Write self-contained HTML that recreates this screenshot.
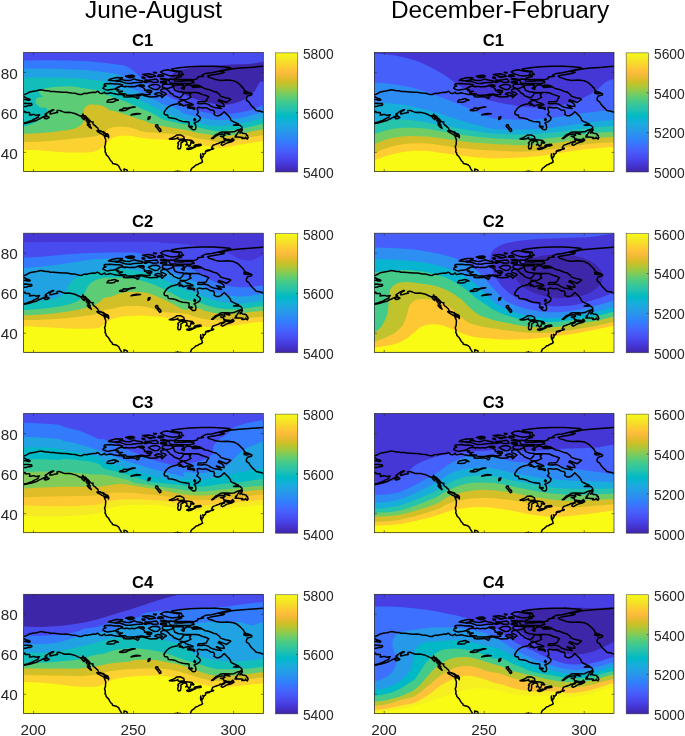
<!DOCTYPE html><html><head><meta charset="utf-8"><title>Z500 clusters</title>
<style>html,body{margin:0;padding:0;background:#fff}svg{display:block}text{font-family:"Liberation Sans",sans-serif;fill:#262626}.t{font-size:24.4px;fill:#000}.h{font-size:16.6px;font-weight:bold;fill:#000}.a{font-size:15.3px}.c{font-size:13.8px}</style></head><body>
<svg width="685" height="736" viewBox="0 0 685 736">
<defs>
<clipPath id="cp"><rect x="0" y="0" width="239.65" height="119.1"/></clipPath>
<g id="coast"><path d="M100.5 119.4 L100.3 118 L100.4 116.6 L101.1 116.8 L102.5 117.2 L103.5 117.8 L103.9 119.4 M98.3 119.6 L97.5 118 L96.5 116.4 L95.7 115 L95.3 113.8 L93.9 112.6 L92.9 112 L91.3 111.6 L88.9 111 L88.5 109.6 L87.1 108.4 L86.1 106.8 L85.7 106 L84.9 104.6 L83.9 103.6 L82.5 102.2 L82.3 100.6 L81.3 99.4 L81.7 98 L81.5 96.4 L80.9 94.4 L81.7 92.6 L81.9 90.4 L82.1 87.6 L81.7 86.4 L80.5 83.4 L82.9 83.8 L84.3 84 L84.9 85.4 L85.1 83.6 L84.3 82 L83.5 81.4 L82.1 81 L80.7 80.2 L80.1 79.4 L78.3 79 L76.3 78.2 L74.9 78 L74.5 76.8 L74.1 75.6 L72.9 74.8 L71.9 73.6 L70.3 72.6 L69.5 71.6 L69.1 70.6 L69.5 69.6 L67.5 69.4 L66.1 68.2 L65.3 67 L63.9 65.8 L62.7 64.8 L61.9 63.6 L59.9 63 L59.3 61.6 L58.7 63.2 L56.7 63.6 L54.3 62.6 L52.9 61.8 L50.5 60.8 L49.1 60.6 L46.9 60 L44.3 59.8 L41.3 60 L38.9 59.2 L37.5 58.6 L35.9 58 L33.5 58.2 L33.3 59.6 L33.9 60.1 L30.9 60.6 L28.9 61.2 L26.3 61.6 L26.3 60.6 L27.3 59 L29.3 58 L30.1 57.4 L28.7 57.4 L26.7 58.4 L25.1 59.2 L23.9 60.2 L22.3 61.2 L21.5 62 L23.1 62.6 L21.5 63.6 L19.5 64.6 L17.1 65.8 L14.7 66.8 L12.9 68 L10.3 68.6 L7.9 69.4 L5.3 70 L3.3 70.5 L0.5 71 L-0.9 71.2 M-0.9 70.6 L0.3 70.5 L3.3 69.8 L5.9 68.8 L8.3 68 L10.3 66.8 L12.5 65.8 L14.5 64.8 L14.9 63.2 L15.9 62.4 L13.9 62.6 L12.3 63 L10.7 62.2 L9.3 62.2 L7.3 62.6 L5.7 62.7 L6.3 61.8 L5.9 60.2 L4.1 60.2 L1.7 60.2 L1.5 59 L-0.9 58.8 M-0.9 51 L1.9 50.9 L3.9 51 L6.3 51.2 L7.9 51.2 L8.3 52.4 L6.9 53.1 L4.9 53 L2.9 53.8 L0.9 54 L-0.9 54.4 M-0.9 47.2 L1.9 47 L3.9 47.8 L5.9 47.9 L6.5 47.2 L4.9 46.2 L2.9 45.8 L1.3 44.8 L-0.9 43.8 M-0.9 42.3 L0.9 42.2 L3.5 41 L5.9 39.6 L9.9 38.8 L12.9 38.4 L16.7 37.3 L19.9 37.8 L21.9 38.3 L24.9 38.3 L26.5 39 L29.9 39 L32.9 39.3 L35.9 39.6 L38.9 39.9 L42.7 39.8 L45.9 40.3 L47.9 40.7 L51.5 40.9 L53.9 41.6 L55.9 42.1 L57.9 42.2 L59.3 41.4 L61.3 40.8 L63.3 41.2 L64.7 40.6 L67.9 40.1 L69.9 39.8 L71.9 40 L73.7 38.9 L74.9 39.4 L76.3 40.8 L78.3 41.2 L79.9 40.4 L80.9 39.8 L81.9 41.2 L83.9 41 L86.9 40.4 L89.9 41.2 L93.9 42 L97.9 42.2 L100.9 43.4 L99.9 44.3 L103.9 44.6 L109.9 44.1 L112.3 45 L113.9 46.2 L115.1 45.2 L115.3 44 L112.9 43.4 L116.9 43 L117.9 42.2 L119.9 43 L123.9 44 L126.9 44.6 L130.9 44.4 L133.3 44.4 L134.9 43 L137.5 43.6 L138.3 45.2 L139.5 44 L140.9 42.6 L142.7 41.6 L141.3 40.4 L137.3 39 L137.3 37.4 L138.9 36.4 L140.7 36 L142.3 36.4 L144.3 38 L145.9 39.6 L146.9 40.8 L148.9 41.6 L149.9 43.2 L152.9 44.4 L155.3 45.4 L156.9 44.8 L158.9 42.8 L159.9 40.6 L164.5 40.6 L167.1 41.6 L165.9 43 L167.3 44.8 L163.3 47 L159.9 47.4 L156.5 47 L158.3 48.2 L155.3 49.4 L154.1 51.4 L150.3 52.2 L147.9 52.8 L144.9 54.4 L142.9 56.2 L141.5 58.2 L140.3 60.2 L140.9 62 L141.9 62.5 L143.9 62.6 L144.7 65.2 L147.9 65.5 L151.9 66.3 L154.9 67.8 L158.9 69 L162.3 69.4 L165.3 69.7 L165.5 72 L165.1 74 L166.9 75.4 L168.9 77.2 L170.7 77.4 L171.9 76.8 L172.3 75 L171.9 72.4 L170.5 70.7 L173.9 69.2 L176.1 67.6 L176.7 65.4 L174.9 63.4 L173.1 62.2 L174.7 60 L173.9 58 L173.7 55.4 L175.1 54.9 L178.9 55.6 L182.5 55.2 L184.9 56.4 L186.9 57.6 L189.9 57.9 L190.9 60 L190.3 62 L192.9 63.4 L194.9 63.4 L197.3 62.4 L198.9 60.8 L200.5 59.3 L201.9 60.6 L203.5 62.2 L205.3 64 L206.7 66 L207.3 68 L209.5 69.2 L212.1 70.4 L214.9 71.6 L212.9 72 L209.9 72.8 L213.9 72.6 L216.3 72.8 L218.1 74.4 L218.5 75.6 L216.7 76.8 L213.9 77.6 L210.3 79.4 L206.9 79.7 L202.9 79.5 L198.9 79.5 L196.3 80 L194.7 81.4 L192.1 82.4 L189.9 84.4 L187.9 86.1 L189.5 86 L191.5 84.2 L194.3 82.4 L197.9 81.6 L200.7 81.8 L201.3 83 L198.9 83.9 L196.9 83.9 L199.9 84.8 L200.1 86 L200.7 87.4 L202.3 88 L204.3 88.6 L206.1 88.3 L207.9 88.8 L209.5 88 L209.1 86 L210.3 88 L207.9 89.4 L204.9 90.2 L202.7 90.8 L200.9 92 L198.9 93 L197.5 92.2 L197.9 90.8 L200.3 89.6 L201.1 89.3 L200.3 88.7 L198.1 89.6 L195.9 90 L195.5 90.8 L193.3 91.4 L191.9 92 L189.5 92.8 L188.5 94 L188.5 94.8 L187.9 95.4 L188.7 96.2 L189.9 96.4 L189.9 95.9 L188.9 96.8 L187.3 97 L185.9 97.4 L183.9 97.7 L182.5 98.2 L185.5 97.9 L184.7 98.4 L182.5 98.8 L181.9 99 L181.9 100.6 L180.7 101.6 L180.1 102.1 L179.1 101.2 L179.7 102.8 L179.5 104 L178.1 105.6 L177.3 103.6 L177.1 101.6 L176.9 104 L177.3 106 L178.1 106.6 L178.5 108.4 L178.9 109.5 L177.1 110.6 L175.3 111.2 L174 112.2 L172.3 112.5 L171.1 113.8 L169.9 114.8 L168.1 116 L167.3 117.6 L166.9 119 L167.1 120 M149.9 120 L150.7 119.5 L151.9 119.2 L153.9 119 L153.9 118.5 L154.3 119.2 L155.5 119.2 L156.9 119.2 L158.3 119.6 L159.3 120.4 M83.1 83.2 L80.5 82.8 L78.3 81.8 L76.3 80.6 L73.9 79.2 L73.3 78.4 L75.3 78.3 L77.9 79.2 L79.5 80 L80.5 81 L82.3 81.8 L83.1 83.2 M67.7 76 L65.3 74.2 L63.9 72.6 L63.7 71.7 L66.5 72 L66.3 73.6 L67.3 75 L67.7 76 M25.5 65 L23.9 66 L21.5 66.4 L20.5 65.2 L22.3 64.2 L24.1 64 L25.5 65 M211.3 84.7 L212.9 83.2 L211.9 83 L213.3 81.8 L214.1 80.4 L215.3 78.8 L216.3 77.4 L218.7 76.8 L218.5 78 L216.9 79.6 L216.3 80.6 L217.9 79.8 L218.9 80.8 L220.9 81 L222.7 81.6 L222.9 82.8 L223.9 83 L223.9 84.2 L224.5 85 L223.7 86.7 L222.7 86 L221.9 84.8 L221.3 86 L219.9 86.2 L218.1 86.2 L219.1 85 L216.9 84.8 L214.3 84.7 L211.3 84.7 M200.9 80.3 L203.9 80.5 L206.3 81.8 L203.9 81.5 L201.5 80.7 L200.9 80.3 M201.3 86.4 L203.3 87 L205.9 87.1 L204.9 88 L202.9 87.7 L201.3 87 L201.3 86.4 M206.9 88.8 L209.1 88.6 L210.3 87.6 L209.1 86 L207.9 86.8 L206.9 88 L206.9 88.8 M155.9 49.2 L158.1 48 L160.9 48 L162.5 49.6 L165.9 50.6 L169.3 52 L169.5 52.5 L166.9 52.8 L163.9 52.2 L162.7 52.7 L159.3 53.6 L158.9 52.4 L155.5 52.7 L157.3 51.2 L154.7 50.2 L155.9 49.2 M164.1 54.2 L165.9 54.1 L167.5 54.8 L169.9 55 L169.3 55.6 L166.1 55.8 L163.9 55.4 L164.1 54.2 M169.3 55.2 L170.9 55.6 L171.1 56.6 L170.3 57 L169.3 56.2 L169.3 55.2 M170.9 66.2 L171.9 67.2 L171.3 68.4 L170.1 67.4 L170.9 66.2 M166.1 74 L167.9 73.8 L168.9 74.4 L167.5 74.6 L166.1 74 M79.3 36 L81.9 37.2 L83.9 37.8 L86.9 37.1 L89.1 37 L91.7 36.2 L94.9 34.8 L97.9 33.4 L98.9 32.4 L95.1 31.5 L91.5 31.6 L86.7 31 L81.3 31.3 L80.3 32.4 L82.3 33.6 L79.9 34.6 L79.3 36 M95.3 34.2 L92.9 35.6 L91.9 36.8 L94.9 37.3 L93.5 38.4 L96.3 38.8 L98.9 38.8 L95.9 39.6 L95.3 40.4 L97.9 41.2 L101.9 41.5 L102.9 42.8 L109.9 42.8 L113.9 42.1 L117.9 41.7 L122.9 42.4 L126.5 42 L126.3 40.8 L122.9 39.4 L127.9 39.8 L128.1 38.4 L124.9 37.6 L120.9 38 L120.9 36.4 L118.9 34.8 L115.3 33.6 L117.9 33 L119.3 32.6 L114.9 32.8 L110.9 34.4 L108.9 34 L105.9 34.4 L101.9 33.8 L101.3 34.6 L98.9 33.6 L95.3 34.2 L95.3 34.2 M95.9 28.8 L99.9 30 L102.3 30.9 L106.9 31 L109.9 30.4 L114.9 30 L118.5 30 L118.7 28.4 L116.5 28 L112.7 27.4 L110.9 26.5 L105.9 28.2 L101.9 28 L97.9 27 L95.5 27.6 L95.9 28.8 M84.9 27.8 L89.9 28.4 L94.9 27.8 L98.9 25.4 L92.9 25.2 L86.9 26.6 L84.9 27.8 M121.9 29.8 L125.9 28.9 L129.5 30 L134.5 29.6 L134.1 28 L132.5 26.7 L127.9 27.4 L124.3 27.8 L121.3 27.6 L123.5 28.4 L121.9 29.8 M136.9 30 L139.9 30.7 L142.9 30.4 L142.9 29.4 L139.9 28.8 L137.1 29 L136.9 30 M124.9 34 L126.9 35.4 L130.9 37.2 L133.9 37 L136.5 34.6 L135.5 33 L132.9 32 L128.5 32.3 L126.9 33 L124.9 34 M138.7 34.6 L141.9 36 L144.9 35.8 L148.9 34.4 L149.3 32.2 L144.9 31.8 L139.9 31.9 L138.7 33 L138.7 34.6 M131.1 41.8 L133.9 42.9 L136.9 43 L138.9 42.2 L137.5 41 L134.7 40.2 L132.3 40.8 L131.1 41.8 M169.9 29 L170.5 30.2 L166.9 31 L161.9 31.1 L153.9 31 L146.9 30.6 L145.7 29.4 L145.7 28 L141.9 27.4 L136.9 26.7 L139.9 26 L143.9 27 L147.9 26.7 L150.9 27.4 L151.3 28.6 L157.9 28.8 L162.9 28.3 L166.9 28.3 L169.9 29 M143.9 17.4 L149.9 18.8 L154.9 19.4 L155.9 21 L154.3 23 L148.9 23.7 L144.9 23 L139.9 21.4 L136.9 19.6 L139.9 18 L143.9 17.4 M118.9 22 L122.9 23.4 L127.9 24.5 L131.9 23.8 L129.9 22.4 L124.9 21.4 L118.9 22 M133.9 23.8 L136.9 24.4 L139.9 23.6 L137.9 22.4 L134.9 22.6 L133.9 23.8 M189.9 13.8 L197.9 14.4 L205.9 15 L207.3 16 L201.9 17 L197.9 18 L193.9 19 L187.9 20.4 L181.9 21 L179.9 22 L177.9 23 L179.9 23.8 L173.9 24.6 L173.9 26.2 L169.9 27.4 L165.9 27.2 L159.9 27.2 L153.9 27.1 L150.9 26.4 L153.9 25 L157.9 24 L154.9 23 L159.9 22 L157.9 20.4 L157.9 19 L149.9 18 L147.9 16.6 L155.9 15.4 L165.9 14.4 L177.9 13.9 L189.9 13.8 M168.1 33.4 L169.9 34.2 L173.9 34.2 L177.5 34 L174.3 32.8 L170.9 32.5 L168.1 33.4 M150.1 32.8 L152.9 32.5 L156.9 32.3 L160.1 32.6 L159.9 34 L157.9 36 L160.3 37 L160.9 34.4 L162.9 32.6 L166.9 32.6 L167.9 33.6 L169.3 35 L172.9 34.8 L177.9 34.4 L181.5 36.4 L184.9 37 L187.5 38 L189.9 39 L192.9 39.7 L194.9 41.4 L195.9 42 L196.9 43.8 L201.9 45.4 L205.9 46.2 L207.1 46.9 L204.9 48.6 L202.9 50.1 L198.9 48.6 L195.3 47.2 L194.5 48.6 L197.9 50 L200.1 52 L200.5 54 L196.9 53.6 L192.7 52.5 L194.9 54.2 L197.9 56.2 L193.9 55.6 L189.9 54.8 L186.5 53.4 L184.9 52 L180.9 50.8 L177.9 51.3 L173.9 51.1 L174.7 49.4 L179.9 49.2 L182.5 48.8 L183.9 46 L185.1 44.4 L181.9 43 L178.9 42.2 L174.9 40.4 L170.9 40.2 L165.9 40.2 L159.9 39.9 L154.9 39.4 L151.3 38 L150.3 36 L149.9 34.4 L150.1 32.8 M183.9 23.6 L186.9 22.8 L192.9 21.8 L198.9 20.8 L200.9 19.8 L195.9 19.2 L199.9 18.2 L203.9 17.4 L207.9 16.5 L215.9 15.7 L225.9 15 L235.9 14.2 L241.9 13.7 M183.9 23.6 L185.3 25 L188.9 26 L191.9 27.2 L196.9 28 L203.9 27.6 L209.9 28.4 L213.5 30 L215.9 32 L217.9 34 L219.9 36 L220.5 37.6 L221.9 38.8 L225.9 40.2 L228.3 41.4 L227.9 42.6 L223.9 43.6 L222.7 46 L222.9 48 L225.3 49.4 L226.5 51.6 L228.5 54 L230.7 56 L232.5 58 L236.9 58.8 L239.9 59.8 L241.9 60.1 M220.3 39.6 L222.9 39.4 L225.5 40.4 L226.1 41 L222.9 41.4 L220.5 40.8 L220.3 39.6 M83.3 49.6 L87.9 49.8 L90.5 49.4 L91.9 48 L94.7 47.8 L90.9 46.2 L87.5 47 L84.9 47.4 L83.9 48.4 L83.3 49.6 M95.9 58 L98.9 58.3 L102.5 57.8 L104.9 56.2 L107.9 55.2 L111.5 54.5 L108.9 54.5 L103.9 55.8 L99.9 55.6 L98.9 56.8 L96.3 57.4 L95.9 58 M136.1 79.2 L137.3 78.6 L137.1 77 L135.9 76 L134.3 74 L133.9 72.4 L132.1 72.6 L131.9 74 L133.5 75.6 L134.9 77.6 L136.1 79.2 M145.7 86.5 L148.9 85.2 L151.3 84 L153.1 82.6 L156.9 82.5 L160.1 84.2 L160.7 86.8 L158.9 86.6 L155.1 87 L153.5 85.6 L154.3 85.1 L152.9 86 L149.1 86.8 L145.7 86.5 M154.9 96.6 L156.7 96.2 L157.3 93.6 L157.3 90.6 L159.1 89.6 L159.9 88.5 L161.5 88.7 L163.1 89.6 L163.3 91.4 L162.1 92.6 L163.9 92 L165.1 94 L166.5 93 L167.3 90.8 L167.1 89.6 L169.7 90.8 L170.3 90.2 L168.3 88.2 L164.9 87.7 L161.7 87.4 L160.5 88.1 L158.3 88 L156.3 88.4 L154.7 89.8 L154.1 90.8 L154.9 91.6 L154.1 94 L154.3 95.6 L154.9 96.6 M163.1 96.5 L164.9 97.2 L167.3 96.6 L172.1 94.3 L169.3 94.8 L166.7 95.2 L164.7 96 L163.7 95.8 L163.1 96.5 M170.5 93.5 L174.9 93.5 L177.5 92.9 L177.1 91.8 L174.5 92.1 L171.3 92.7 L170.5 93.5 M181.9 98.8 L184.3 98.5 L186.1 97.9 L184.5 98 L182.5 98.2 L181.9 98.8 M57.3 63.6 L59.9 63.8 L60.7 65.4 L60.5 67.4 L59.1 66.2 L58.1 65 L57.3 63.6 M60.3 63.4 L61.9 64 L61.7 65.6 L60.7 65 L60.3 63.4 M62.7 67.4 L64.7 68 L65.9 70 L65.3 70.6 L63.5 69.6 L62.5 68.2 L62.7 67.4 M61.9 66 L63.9 66 L64.7 66.8 L62.9 67.2 L61.9 66 M129.9 19.8 L132.7 20 L132.3 20.6 L130.3 20.4 L129.9 19.8 M124.3 24.2 L127.9 24.2 L128.3 24.8 L125.3 24.8 L124.3 24.2 M118.3 24.8 L120.3 24.6 L121.3 25.6 L119.3 26 L118.3 24.8 M104.3 24.2 L107.9 24 L109.9 24.8 L106.9 25.4 L104.3 25 L104.3 24.2 M91.9 28.2 L94.5 28.2 L94.7 28.8 L92.3 29 L91.9 28.2 M120.1 29.2 L122.7 29 L122.9 30 L120.9 30 L120.1 29.2 M116.3 32.6 L119.9 32.6 L120.7 33.8 L118.3 34 L116.3 32.6 M-0.9 59.2 L-0.1 59.4 L-0.1 60.2 L-0.9 60.4 L-0.9 59.2" fill="none"/><path d="M101.9 23.8 L104.9 23 L108.9 22.8 L110.9 23.8 L108.9 24.6 L104.9 24.8 L101.9 23.8Z M107.3 62.6 L110.9 62 L116.9 61.4 L112.9 61 L108.9 61.8 L107.3 62.6Z M124.3 67.2 L126.1 66.2 L126.5 64.2 L124.7 64.8 L124.3 67.2Z" fill="#000"/></g>
<linearGradient id="pg" x1="0" y1="1" x2="0" y2="0"><stop offset="0.0000" stop-color="#3e26a8"/><stop offset="0.0312" stop-color="#422ebf"/><stop offset="0.0625" stop-color="#4536d5"/><stop offset="0.0938" stop-color="#4741e5"/><stop offset="0.1250" stop-color="#484cef"/><stop offset="0.1562" stop-color="#4757f7"/><stop offset="0.1875" stop-color="#4562fc"/><stop offset="0.2188" stop-color="#3f6efe"/><stop offset="0.2500" stop-color="#347afd"/><stop offset="0.2812" stop-color="#2e85f8"/><stop offset="0.3125" stop-color="#2c90f0"/><stop offset="0.3438" stop-color="#269ae9"/><stop offset="0.3750" stop-color="#21a3e3"/><stop offset="0.4062" stop-color="#1aacdd"/><stop offset="0.4375" stop-color="#0cb3d3"/><stop offset="0.4688" stop-color="#01b9c6"/><stop offset="0.5000" stop-color="#12beb9"/><stop offset="0.5312" stop-color="#28c2ab"/><stop offset="0.5625" stop-color="#34c79c"/><stop offset="0.5938" stop-color="#44ca8a"/><stop offset="0.6250" stop-color="#5ccc76"/><stop offset="0.6562" stop-color="#77cc60"/><stop offset="0.6875" stop-color="#94ca4a"/><stop offset="0.7188" stop-color="#afc637"/><stop offset="0.7500" stop-color="#c8c129"/><stop offset="0.7812" stop-color="#debc2a"/><stop offset="0.8125" stop-color="#f1ba37"/><stop offset="0.8438" stop-color="#febe3c"/><stop offset="0.8750" stop-color="#feca33"/><stop offset="0.9062" stop-color="#f9d62d"/><stop offset="0.9375" stop-color="#f5e327"/><stop offset="0.9688" stop-color="#f6ef20"/><stop offset="1.0000" stop-color="#f9fb15"/></linearGradient>
</defs>
<rect width="685" height="736" fill="#fff"/>
<text class="t" x="153.5" y="18.1" text-anchor="middle">June-August</text>
<text class="t" x="500" y="18.1" text-anchor="middle">December-February</text>
<g transform="translate(23.65 52.4)">
<g clip-path="url(#cp)">
<rect x="-1" y="-1" width="241.65" height="121.1" fill="#484cef"/>
<path d="M-8 8 C-6.6 8 -5.4 8 0.4 8 C6.1 8 17.9 7.8 26.6 7.8 C35.4 7.9 45 8 52.9 8.4 C60.8 8.7 67.5 9.2 73.9 9.8 C80.4 10.3 86.2 10.9 91.5 11.9 C96.7 12.8 100 12.1 105.5 15.4 C110.9 18.6 120.2 28.1 124.1 31.4 C128.1 34.6 127.6 33.7 129.4 34.9 C131.2 36 132.8 37 134.7 38.4 C136.5 39.7 138.9 41.9 140.3 42.7 C141.8 43.6 141.9 42.8 143.6 43.5 C145.3 44.2 148.2 45.9 150.6 47 C152.9 48 155.9 48.7 157.6 49.9 C159.2 51.1 157.9 52.9 160.3 54.2 C162.8 55.5 168.1 56.7 172 57.7 C175.9 58.7 179.8 59.7 183.7 60.4 C187.6 61.1 191.5 61.6 195.4 61.8 C199.3 62 203.2 61.8 207.1 61.4 C211 61.1 214.9 60.5 218.7 59.7 C222.6 58.9 226.8 57.7 230.4 56.5 C234 55.3 237.5 53.1 240.3 52.4 C243.2 51.8 246.4 52.4 247.7 52.4 L247.7 127.1 L-8 127.1Z" fill="#347afd"/>
<path d="M-8 16.2 C-6.6 16.2 -6.9 16.2 0.4 16.2 C7.6 16.3 25.2 16.4 35.4 16.6 C45.6 16.8 54.4 17.1 61.7 17.6 C69 18.2 73.3 18.8 79.2 19.7 C85 20.7 92.1 20.7 96.7 23.3 C101.3 25.8 103.5 32.2 106.6 34.9 C109.7 37.5 112.5 37.7 115.4 39.2 C118.3 40.8 121.2 42.5 124.1 44.1 C127.1 45.6 130.2 47 132.9 48.4 C135.6 49.8 137.6 51.4 140.3 52.4 C143.1 53.4 146.7 53.5 149.4 54.6 C152.1 55.6 154.6 57.5 156.4 58.7 C158.2 59.8 157.7 60.3 160.3 61.2 C163 62.1 168.1 63.2 172 64.1 C175.9 65 179.8 65.9 183.7 66.5 C187.6 67 191.5 67.5 195.4 67.6 C199.3 67.7 203.2 67.4 207.1 67 C211 66.7 214.9 66.1 218.7 65.3 C222.6 64.5 226.8 63.3 230.4 62.4 C234 61.4 237.5 59.9 240.3 59.5 C243.2 59 246.4 59.5 247.7 59.5 L247.7 127.1 L-8 127.1Z" fill="#21a3e3"/>
<path d="M-8 25.5 C-6.6 25.5 -5.4 25.6 0.4 25.5 C6.1 25.5 17.9 25.1 26.6 25.2 C35.4 25.2 45.6 25.5 52.9 25.9 C60.2 26.3 65.2 26.9 70.4 27.6 C75.7 28.4 81.3 29.1 84.4 30.3 C87.6 31.5 86.9 33.5 89.1 34.9 C91.3 36.2 94.9 37 97.9 38.4 C100.8 39.7 103.7 41.3 106.6 42.7 C109.5 44.2 112.5 45.7 115.4 47.1 C118.3 48.6 121.2 50 124.1 51.5 C127.1 53 130.2 54.5 132.9 55.9 C135.6 57.3 135.8 58 140.3 59.8 C144.9 61.7 155.1 65.3 160.3 67 C165.6 68.8 168.1 69.3 172 70.2 C175.9 71.1 179.8 72 183.7 72.5 C187.6 73.1 191.5 73.4 195.4 73.5 C199.3 73.5 203.2 73.3 207.1 72.9 C211 72.5 214.9 71.7 218.7 70.9 C222.6 70.1 226.8 69.1 230.4 68.2 C234 67.4 237.5 66.3 240.3 65.9 C243.2 65.5 246.4 65.9 247.7 65.9 L247.7 127.1 L-8 127.1Z" fill="#12beb9"/>
<path d="M-8 74.1 C-6.6 74.1 -2.3 74.5 0.4 74.1 C3 73.8 5.2 72.9 7.6 71.9 C10.1 71 12.9 69.6 14.9 68.3 C17 66.9 18.7 65.4 20.1 63.9 C21.4 62.4 22.4 60.7 23 59.5 C23.6 58.4 23.8 57.7 23.6 57 C23.3 56.3 22.5 55.6 21.5 55.3 C20.5 55 18.7 55.5 17.5 55.1 C16.3 54.8 15.1 53.8 14.2 53 C13.3 52.1 12.3 51 12 50 C11.7 49.1 11.9 47.9 12.4 47.1 C12.9 46.3 13.9 45.5 14.9 45.1 C16 44.7 18.6 45.2 19 44.8 C19.4 44.3 17.9 43.2 17.3 42.4 C16.6 41.5 15.2 40.6 15.1 39.8 C14.9 39 15.2 38.3 16.4 37.6 C17.6 37 19.4 36.4 22.2 35.8 C25 35.3 29.5 34.6 33.2 34.3 C36.8 34 41.3 34 44.1 34 C47 33.9 48 33.9 50.4 34.1 C52.7 34.4 54.8 35 58.2 35.5 C61.5 36 66.9 36.6 70.4 37.3 C73.9 37.9 77.5 38.9 79.2 39.5 C80.8 40.2 78.7 40.6 80.3 41.4 C82 42.2 86.2 43.5 89.1 44.5 C92 45.5 94.9 46.5 97.9 47.6 C100.8 48.7 103.7 49.8 106.6 51.1 C109.5 52.3 112.5 53.7 115.4 55 C118.3 56.3 121.2 57.6 124.1 58.9 C127.1 60.3 130.2 61.9 132.9 63.3 C135.6 64.7 135.8 65.9 140.3 67.3 C144.9 68.7 155.1 70.5 160.3 71.7 C165.6 72.9 168.1 73.8 172 74.6 C175.9 75.5 179.8 76.3 183.7 77 C187.6 77.7 191.5 78.6 195.4 78.7 C199.3 78.9 203.2 78.4 207.1 77.9 C211 77.5 214.9 76.8 218.7 76 C222.6 75.3 226.8 74.2 230.4 73.5 C234 72.7 237.5 71.7 240.3 71.4 C243.2 71 246.4 71.4 247.7 71.4 L247.7 127.1 L-8 127.1Z" fill="#5ccc76"/>
<path d="M-8 81.4 C-6.6 81.4 -4 81.6 0.4 81.4 C4.7 81.3 12 81 17.9 80.5 C23.7 80.1 30.1 79.4 35.4 78.8 C40.6 78.1 45.9 77.6 49.4 76.7 C52.9 75.8 54.5 74.8 56.4 73.2 C58.3 71.6 60.2 69.4 60.8 67 C61.4 64.7 59.8 61.2 59.9 59.2 C60.1 57.1 60.5 56 61.7 54.8 C62.8 53.6 64.6 52.5 66.9 52.2 C69.3 51.8 73.1 52 75.7 52.5 C78.3 53 81 54.5 82.7 55.3 C84.3 56.1 83.8 56.8 85.6 57.5 C87.4 58.1 90 58.3 93.5 59.4 C97 60.5 102.2 62.5 106.6 63.9 C111 65.4 115.4 66.7 119.8 68.1 C124.1 69.6 126.1 71 132.9 72.5 C139.7 74 153.8 76 160.3 77.2 C166.9 78.5 168.1 79.2 172 80 C175.9 80.8 179.8 81.2 183.7 81.9 C187.6 82.5 191.5 83.8 195.4 84 C199.3 84.2 203.2 83.5 207.1 83 C211 82.6 214.9 81.8 218.7 81.1 C222.6 80.3 226.8 79.4 230.4 78.7 C234 78 237.5 77.1 240.3 76.7 C243.2 76.4 246.4 76.7 247.7 76.7 L247.7 127.1 L-8 127.1Z" fill="#d3bf27"/>
<path d="M-8 89.8 C-6.6 89.8 -4 89.9 0.4 89.8 C4.7 89.7 12 89.5 17.9 89.1 C23.7 88.7 29.5 88.1 35.4 87.5 C41.2 87 47.1 86.4 52.9 85.8 C58.7 85.2 66 84.8 70.4 84 C74.8 83.3 76.9 82.3 79.2 81.1 C81.5 79.8 82.4 77.8 84.4 76.7 C86.5 75.6 88.5 74.9 91.5 74.6 C94.4 74.2 98.5 74.2 102 74.6 C105.5 74.9 109.4 75.9 112.5 76.7 C115.5 77.5 112.4 78.3 120.4 79.3 C128.3 80.3 151.7 81.5 160.3 82.6 C169 83.6 168.1 84.7 172 85.5 C175.9 86.3 179.8 86.8 183.7 87.5 C187.6 88.2 191.5 89.4 195.4 89.6 C199.3 89.7 203.2 89 207.1 88.4 C211 87.9 214.9 87 218.7 86.3 C222.6 85.6 226.8 84.8 230.4 84.2 C234 83.6 237.5 82.9 240.3 82.6 C243.2 82.3 246.4 82.6 247.7 82.6 L247.7 127.1 L-8 127.1Z" fill="#fbd22f"/>
<path d="M-8 97.4 C-6.6 97.4 -4 97.2 0.4 97.4 C4.7 97.5 12 97.9 17.9 98.2 C23.7 98.6 29.5 99.1 35.4 99.5 C41.2 99.8 47.7 100.1 52.9 100.2 C58.2 100.2 63.1 100.4 66.9 99.8 C70.7 99.3 73.1 98.4 75.7 96.8 C78.3 95.3 80.4 92.6 82.7 90.7 C85 88.8 87.1 86.7 89.7 85.4 C92.3 84.2 95.2 83.6 98.5 83.3 C101.7 83.1 105.3 83.3 109 83.7 C112.6 84.1 111.8 85 120.4 85.8 C128.9 86.6 151.7 87.6 160.3 88.7 C169 89.7 168.1 91 172 91.8 C175.9 92.6 179.8 93 183.7 93.6 C187.6 94.2 191.5 95.4 195.4 95.4 C199.3 95.5 203.2 94.5 207.1 93.9 C211 93.3 214.9 92.6 218.7 91.9 C222.6 91.3 226.8 90.6 230.4 90.1 C234 89.5 237.5 88.9 240.3 88.7 C243.2 88.4 246.4 88.7 247.7 88.7 L247.7 127.1 L-8 127.1Z" fill="#f9fb15"/>
<path d="M243 11 C240.1 8.3 231.3 11.3 225.5 11.5 C219.6 11.7 213.8 11.9 207.9 12.2 C202.1 12.5 196.3 12.9 190.4 13.3 C184.6 13.6 178.2 13.8 172.9 14.5 C167.7 15.1 162.7 16.1 158.9 17.1 C155.1 18.1 152.2 19.2 150.1 20.6 C148.1 22.1 146.8 23.8 146.6 25.9 C146.5 27.9 147.8 30.7 149.3 32.9 C150.7 35.1 152.6 37.1 155.4 39 C158.2 40.9 162.1 42.7 165.9 44.3 C169.7 45.9 174.1 47.5 178.2 48.7 C182.3 49.8 186.3 50.7 190.4 51.3 C194.5 51.9 198.6 52.4 202.7 52.2 C206.8 51.9 211.5 50.7 215 49.5 C218.5 48.4 221.1 46.9 223.7 45.2 C226.3 43.4 229 41.1 230.7 39 C232.5 37 233.2 34.5 234.2 32.9 C235.2 31.3 235.4 30.3 236.9 29.4 C238.3 28.5 242 30.7 243 27.6 C244 24.6 245.9 13.7 243 11Z" fill="#3e26a8"/>
<use href="#coast" stroke="#000" stroke-width="1.5" stroke-linejoin="round" stroke-linecap="round"/>
</g>
<path d="M9.9 119.1 v-2.4 M9.9 0 v2.4 M109.9 119.1 v-2.4 M109.9 0 v2.4 M209.9 119.1 v-2.4 M209.9 0 v2.4 M0 100 h2.4 M239.7 100 h-2.4 M0 60 h2.4 M239.7 60 h-2.4 M0 20 h2.4 M239.7 20 h-2.4" stroke="#262626" stroke-width="0.6" fill="none"/>
<rect x="0" y="0" width="239.65" height="119.1" fill="none" stroke="#262626" stroke-width="0.7"/>
<text class="a" x="-6.0" y="106.2" text-anchor="end">40</text>
<text class="a" x="-6.0" y="66.2" text-anchor="end">60</text>
<text class="a" x="-6.0" y="26.2" text-anchor="end">80</text>
<text class="h" x="119" y="-6.0" text-anchor="middle">C1</text>
</g>
<rect x="275.4" y="52.9" width="22.4" height="119.1" fill="url(#pg)" stroke="#3a3a3a" stroke-width="0.5"/>
<text class="c" x="302.9" y="58.7">5800</text>
<path d="M297.8 112.7 h-1.8" stroke="#262626" stroke-width="0.6"/>
<text class="c" x="302.9" y="118.5">5600</text>
<text class="c" x="302.9" y="178.3">5400</text>
<g transform="translate(23.65 233.2)">
<g clip-path="url(#cp)">
<rect x="-1" y="-1" width="241.65" height="121.1" fill="#4536d5"/>
<path d="M-8 9.1 C-6.6 9.1 -21 9.2 0.4 9.1 C21.7 9 97.4 8.5 120.4 8.6 C143.3 8.6 131.2 9.2 137.9 9.6 C144.5 10 153.6 10.2 160.3 10.8 C167 11.5 172 12.4 177.8 13.3 C183.7 14.2 190.5 14.8 195.3 16.1 C200.2 17.3 203.7 19.2 207.1 20.8 C210.4 22.4 212.2 24.5 215.3 25.6 C218.4 26.6 222.7 27.4 225.8 27.3 C228.9 27.2 231.5 25.8 233.9 24.9 C236.3 23.9 238.1 21.9 240.4 21.3 C242.7 20.8 246.4 21.3 247.7 21.3 L247.7 127.1 L-8 127.1Z" fill="#484cef"/>
<path d="M-8 24.3 C-6.6 24.3 -4 24.5 0.4 24.3 C4.7 24.2 12 23.9 17.9 23.5 C23.7 23 29.5 22.2 35.4 21.7 C41.2 21.2 47.1 20.8 52.9 20.5 C58.7 20.2 63.1 19.9 70.4 19.8 C77.7 19.6 89.4 19.4 96.7 19.4 C104 19.4 109.2 18.9 114.2 19.8 C119.3 20.6 123 23.1 127.1 24.5 C131.2 25.8 134.9 26.9 138.7 28 C142.6 29 146.8 30.1 150.4 30.9 C154 31.7 156.2 31.2 160.3 32.6 C164.5 34.1 170.7 37.2 175.5 39.8 C180.4 42.4 185.3 45.9 189.5 48 C193.8 50 197.3 51.1 201.2 52.1 C205.1 53 208.8 53.5 212.9 53.8 C217 54.1 221.2 54.3 225.8 54 C230.3 53.8 236.7 52.4 240.3 52.1 C244 51.7 246.4 52.1 247.7 52.1 L247.7 127.1 L-8 127.1Z" fill="#347afd"/>
<path d="M-8 34.8 C-6.6 34.8 -5.4 35.3 0.4 34.8 C6.1 34.4 17.9 33.2 26.6 32.2 C35.4 31.2 45.6 29.7 52.9 28.7 C60.2 27.7 65.9 26.6 70.4 26.1 C75 25.6 76.7 25.8 80.3 25.6 C84 25.5 88.1 25.1 92 25.1 C95.9 25.1 99.8 25.3 103.7 25.6 C107.6 26 111.5 26.5 115.4 27.4 C119.3 28.3 123.2 29.5 127.1 30.9 C131 32.3 134.9 34 138.7 35.6 C142.6 37.1 146.8 38.7 150.4 40.2 C154 41.8 156.7 43.4 160.3 44.9 C164 46.4 168.1 47.4 172 49.1 C175.9 50.9 179.8 53.7 183.7 55.6 C187.6 57.4 191.5 59.1 195.4 60.2 C199.3 61.4 203.2 62.1 207.1 62.6 C211 63.1 214.9 63.3 218.7 63.2 C222.6 63.1 226.8 62.5 230.4 62 C234 61.5 237.5 60.5 240.3 60.2 C243.2 59.9 246.4 60.2 247.7 60.2 L247.7 127.1 L-8 127.1Z" fill="#21a3e3"/>
<path d="M-8 69 C-6.6 69 -4 69.3 0.4 69 C4.7 68.7 12 68.1 17.9 67.2 C23.7 66.4 31.3 65.4 35.4 63.7 C39.5 62.1 40.6 59.8 42.4 57.6 C44.1 55.4 44.1 52.8 45.9 50.6 C47.7 48.4 50 46.2 52.9 44.5 C55.8 42.8 59.9 41.5 63.4 40.4 C66.9 39.4 71.1 38.6 73.9 38 C76.8 37.4 77.3 37.4 80.3 37.1 C83.4 36.8 88.1 36.3 92 36.2 C95.9 36 99.8 35.9 103.7 36.2 C107.6 36.4 111.5 37 115.4 37.9 C119.3 38.8 123.2 40 127.1 41.4 C131 42.8 134.9 44.4 138.7 46.1 C142.6 47.7 146.8 49.7 150.4 51.3 C154 53 156.7 54.6 160.3 56 C164 57.4 168.1 58.2 172 59.7 C175.9 61.1 179.8 63.2 183.7 64.7 C187.6 66.1 191.5 67.5 195.4 68.4 C199.3 69.4 203.2 70.1 207.1 70.4 C211 70.7 214.9 70.4 218.7 70.2 C222.6 69.9 226.8 69.3 230.4 68.8 C234 68.3 237.5 67.5 240.3 67.2 C243.2 67 246.4 67.2 247.7 67.2 L247.7 127.1 L-8 127.1Z" fill="#12beb9"/>
<path d="M-8 76.9 C-6.6 76.9 -4 77.1 0.4 76.9 C4.7 76.7 12 76.1 17.9 75.5 C23.7 74.9 30.1 74.3 35.4 73.4 C40.6 72.4 45.6 71.3 49.4 69.9 C53.2 68.4 56.1 66.7 58.2 64.6 C60.3 62.6 60.8 59.8 62 57.6 C63.2 55.4 63.8 53.3 65.5 51.5 C67.2 49.7 69.7 47.8 72.2 46.8 C74.7 45.7 77 45.3 80.3 44.9 C83.7 44.5 88.1 44.6 92 44.6 C95.9 44.6 99.8 44.5 103.7 44.9 C107.6 45.3 111.5 46 115.4 46.9 C119.3 47.8 123.2 49 127.1 50.4 C131 51.8 134.9 53.6 138.7 55.4 C142.6 57.2 146.8 59.4 150.4 61.3 C154 63.1 156.7 65.4 160.3 66.5 C164 67.6 168.1 67.1 172 68.1 C175.9 69 179.8 71.1 183.7 72.3 C187.6 73.4 191.5 74.4 195.4 75.1 C199.3 75.7 203.2 75.9 207.1 76 C211 76.1 214.9 75.8 218.7 75.4 C222.6 75.1 226.8 74.4 230.4 74 C234 73.6 237.5 73 240.3 72.9 C243.2 72.7 246.4 72.9 247.7 72.9 L247.7 127.1 L-8 127.1Z" fill="#5ccc76"/>
<path d="M-8 82.1 C-6.6 82.1 -4 82.3 0.4 82.1 C4.7 82 12 81.7 17.9 81.3 C23.7 80.8 29.5 80.2 35.4 79.5 C41.2 78.8 47.7 77.9 52.9 76.9 C58.2 75.9 63.1 74.7 66.9 73.4 C70.7 72.1 73.4 70.4 75.7 69 C77.9 67.6 78.4 65.7 80.3 64.8 C82.3 63.9 85 64.3 87.4 63.6 C89.7 62.9 91.6 61.5 94.4 60.7 C97.1 59.9 100.2 59.2 103.7 58.9 C107.2 58.6 111.5 58.6 115.4 58.9 C119.3 59.2 123.2 59.6 127.1 60.7 C131 61.8 134.9 63.8 138.7 65.6 C142.6 67.3 146.8 69.4 150.4 71.2 C154 73 156.7 75.8 160.3 76.4 C164 77.1 168.1 74.5 172 74.8 C175.9 75.2 179.8 77.4 183.7 78.3 C187.6 79.3 191.5 79.9 195.4 80.3 C199.3 80.7 203.2 80.8 207.1 80.7 C211 80.6 214.9 80.2 218.7 79.9 C222.6 79.5 226.8 78.9 230.4 78.6 C234 78.2 237.5 77.9 240.3 77.8 C243.2 77.6 246.4 77.8 247.7 77.8 L247.7 127.1 L-8 127.1Z" fill="#d3bf27"/>
<path d="M-8 86.9 C-6.6 86.9 -4 86.9 0.4 86.9 C4.7 86.8 12 86.7 17.9 86.5 C23.7 86.3 29.5 86.1 35.4 85.6 C41.2 85.2 47.1 84.6 52.9 83.9 C58.7 83.2 66 82.1 70.4 81.3 C74.8 80.4 77.5 79.3 79.2 78.6 C80.8 77.9 79 77.5 80.3 77 C81.7 76.6 85 76.3 87.4 75.9 C89.7 75.4 91.6 74.6 94.4 74.1 C97.1 73.6 100.2 73.1 103.7 72.9 C107.2 72.7 111.5 72.6 115.4 72.9 C119.3 73.2 123.6 73.8 127.1 74.7 C130.6 75.6 130.9 77.2 136.4 78.2 C142 79.2 154.4 79.5 160.3 80.4 C166.3 81.4 168.1 83 172 83.9 C175.9 84.9 179.8 85.8 183.7 86.3 C187.6 86.8 191.5 87 195.4 87.1 C199.3 87.2 203.2 87 207.1 86.7 C211 86.5 214.9 86 218.7 85.6 C222.6 85.2 226.8 84.6 230.4 84.2 C234 83.8 237.5 83.4 240.3 83.2 C243.2 83.1 246.4 83.2 247.7 83.2 L247.7 127.1 L-8 127.1Z" fill="#fbd22f"/>
<path d="M-8 93 C-6.6 93 -4 92.9 0.4 93 C4.7 93.1 12 93.6 17.9 93.9 C23.7 94.2 29.5 94.5 35.4 94.8 C41.2 95 47.1 95.4 52.9 95.5 C58.7 95.5 66.3 95.6 70.4 95.3 C74.5 95 75.1 94.7 77.4 93.5 C79.8 92.4 82.1 89.7 84.4 88.3 C86.8 86.8 88.5 85.6 91.5 84.8 C94.4 83.9 98.5 83.4 102 83 C105.5 82.6 109.4 82.6 112.5 82.5 C115.5 82.4 116.1 82.3 120.4 82.5 C124.6 82.7 132 83.1 137.9 83.9 C143.7 84.7 151.6 86.5 155.4 87.4 C159.1 88.3 157.6 88.6 160.3 89.4 C163.1 90.3 168.1 91.9 172 92.6 C175.9 93.3 179.8 93.6 183.7 93.8 C187.6 94 191.5 94 195.4 93.8 C199.3 93.6 203.2 93.1 207.1 92.6 C211 92.1 214.9 91.5 218.7 91 C222.6 90.4 226.8 89.9 230.4 89.4 C234 89 237.5 88.5 240.3 88.3 C243.2 88.1 246.4 88.3 247.7 88.3 L247.7 127.1 L-8 127.1Z" fill="#f9fb15"/>
<use href="#coast" stroke="#000" stroke-width="1.5" stroke-linejoin="round" stroke-linecap="round"/>
</g>
<path d="M9.9 119.1 v-2.4 M9.9 0 v2.4 M109.9 119.1 v-2.4 M109.9 0 v2.4 M209.9 119.1 v-2.4 M209.9 0 v2.4 M0 100 h2.4 M239.7 100 h-2.4 M0 60 h2.4 M239.7 60 h-2.4 M0 20 h2.4 M239.7 20 h-2.4" stroke="#262626" stroke-width="0.6" fill="none"/>
<rect x="0" y="0" width="239.65" height="119.1" fill="none" stroke="#262626" stroke-width="0.7"/>
<text class="a" x="-6.0" y="106.2" text-anchor="end">40</text>
<text class="a" x="-6.0" y="66.2" text-anchor="end">60</text>
<text class="a" x="-6.0" y="26.2" text-anchor="end">80</text>
<text class="h" x="119" y="-6.0" text-anchor="middle">C2</text>
</g>
<rect x="275.4" y="233.7" width="22.4" height="119.1" fill="url(#pg)" stroke="#3a3a3a" stroke-width="0.5"/>
<text class="c" x="302.9" y="239.5">5800</text>
<path d="M297.8 293.5 h-1.8" stroke="#262626" stroke-width="0.6"/>
<text class="c" x="302.9" y="299.3">5600</text>
<text class="c" x="302.9" y="359.1">5400</text>
<g transform="translate(23.65 413.6)">
<g clip-path="url(#cp)">
<rect x="-1" y="-1" width="241.65" height="121.1" fill="#484cef"/>
<path d="M-8 9.2 C-6.6 9.2 -4 9 0.4 9.2 C4.7 9.3 12 9.7 17.9 10 C23.7 10.4 31.6 10.7 35.4 11.3 C39.1 11.8 37.6 12.4 40.4 13.2 C43.1 14.1 48.1 15 52 16.2 C55.9 17.3 59.8 18.7 63.7 20.3 C67.6 21.8 72.6 24.6 75.4 25.5 C78.2 26.4 77.6 24.7 80.3 25.6 C83.1 26.5 88.1 29.1 92 30.8 C95.9 32.6 99.8 34.4 103.7 36.1 C107.6 37.8 111.5 39.4 115.4 41 C119.3 42.6 123.2 44.1 127.1 45.4 C131 46.8 134.9 47.9 138.7 48.9 C142.6 50 146.8 51.1 150.4 51.9 C154 52.6 158.7 53.7 160.3 53.6 C162 53.5 158.4 52.2 160.3 51.3 C162.3 50.5 168.3 49.5 172 48.4 C175.7 47.4 179.7 46.3 182.5 44.9 C185.4 43.6 187.8 42.2 189 40.3 C190.1 38.3 188.7 35.5 189.5 33.2 C190.4 31 191.9 29 194.2 26.8 C196.6 24.7 200.7 22.6 203.6 20.4 C206.4 18.2 207.8 15.2 211.5 13.4 C215.1 11.5 220.6 10.3 225.5 9.2 C230.3 8 236.7 6.8 240.4 6.4 C244.1 5.9 246.4 6.4 247.7 6.4 L247.7 127.1 L-8 127.1Z" fill="#347afd"/>
<path d="M-8 23.2 C-6.6 23.2 -4 23 0.4 23.2 C4.7 23.3 12 23.7 17.9 24.1 C23.7 24.4 31.6 24.7 35.4 25.3 C39.1 25.8 37.6 26.5 40.4 27.3 C43.1 28 48.1 28.6 52 29.6 C55.9 30.6 59.8 31.8 63.7 33.1 C67.6 34.4 72.6 36.1 75.4 37.2 C78.2 38.3 77.6 38.5 80.3 39.6 C83.1 40.7 88.1 42.3 92 43.7 C95.9 45 99.8 46.5 103.7 47.8 C107.6 49 111.5 50.1 115.4 51.3 C119.3 52.4 123.2 53.7 127.1 54.8 C131 55.9 134.9 56.7 138.7 57.7 C142.6 58.7 146.8 59.7 150.4 60.6 C154 61.5 158.7 63.2 160.3 63 C162 62.7 158.4 59.5 160.3 58.9 C162.3 58.4 168.1 59.5 172 59.5 C175.9 59.5 179.8 59.6 183.7 58.9 C187.6 58.3 191.9 56.8 195.4 55.4 C198.9 54.1 202.2 52.5 204.7 50.8 C207.3 49 208.6 46.9 210.6 44.9 C212.5 43 214.3 40.8 216.4 39.1 C218.5 37.3 221.1 35.7 223.4 34.4 C225.8 33.1 227.6 32.6 230.4 31.5 C233.2 30.4 237.5 28.3 240.3 27.6 C243.2 27 246.4 27.6 247.7 27.6 L247.7 127.1 L-8 127.1Z" fill="#21a3e3"/>
<path d="M-8 33.7 C-6.6 33.7 -4 33.6 0.4 33.7 C4.7 33.7 12 33.8 17.9 34 C23.7 34.3 31.6 34.6 35.4 35.1 C39.1 35.6 37.6 36.6 40.4 37.2 C43.1 37.7 48.1 37.8 52 38.4 C55.9 38.9 59.8 39.7 63.7 40.7 C67.6 41.7 72.6 43 75.4 44.2 C78.2 45.4 77.6 46.6 80.3 47.8 C83.1 49 88.1 50.1 92 51.3 C95.9 52.5 99.8 53.8 103.7 55 C107.6 56.2 111.5 57.2 115.4 58.3 C119.3 59.4 123.2 60.7 127.1 61.8 C131 62.9 134.9 63.7 138.7 64.7 C142.6 65.7 146.8 67.5 150.4 67.6 C154 67.7 156.7 65.5 160.3 65.4 C164 65.2 168.1 66.5 172 66.5 C175.9 66.5 179.8 65.9 183.7 65.4 C187.6 64.8 191.5 63.8 195.4 63 C199.3 62.2 203.2 61.5 207.1 60.7 C211 59.9 214.9 59.1 218.7 58.4 C222.6 57.6 226.8 56.7 230.4 56 C234 55.3 237.5 54.6 240.3 54.3 C243.2 54 246.4 54.3 247.7 54.3 L247.7 127.1 L-8 127.1Z" fill="#01b9c6"/>
<path d="M-8 46 C-6.6 46 -4 46 0.4 46 C4.7 45.9 12 45.5 17.9 45.6 C23.7 45.7 31.6 46.3 35.4 46.3 C39.1 46.3 37.6 45.4 40.4 45.4 C43.1 45.3 48.1 45.8 52 46.2 C55.9 46.6 59.8 47 63.7 47.7 C67.6 48.4 72.6 49.4 75.4 50.6 C78.2 51.8 77.6 53.6 80.3 54.8 C83.1 56 88.1 56.6 92 57.7 C95.9 58.8 99.8 60 103.7 61.2 C107.6 62.4 111.5 63.5 115.4 64.7 C119.3 65.9 119.6 67 127.1 68.2 C134.6 69.4 152.9 71 160.3 71.8 C167.8 72.6 168.1 72.9 172 73 C175.9 73.1 179.8 72.8 183.7 72.4 C187.6 72 191.5 71.1 195.4 70.6 C199.3 70.1 203.2 69.8 207.1 69.5 C211 69.1 214.9 68.8 218.7 68.3 C222.6 67.8 226.8 67 230.4 66.5 C234 66 237.5 65.6 240.3 65.4 C243.2 65.2 246.4 65.4 247.7 65.4 L247.7 127.1 L-8 127.1Z" fill="#39c895"/>
<path d="M-8 58.2 C-6.6 58.2 -4 58.3 0.4 58.2 C4.7 58.2 12 57.9 17.9 57.9 C23.7 57.8 29.5 57.7 35.4 57.9 C41.2 58.1 47.1 58.6 52.9 59.1 C58.7 59.6 65.9 60.5 70.4 60.8 C75 61.2 76.7 60.8 80.3 61.2 C84 61.7 88.1 62.7 92 63.5 C95.9 64.4 99.8 65.4 103.7 66.5 C107.6 67.5 105.9 68.3 115.4 70 C124.8 71.6 150.9 75.1 160.3 76.5 C169.8 77.8 168.1 77.7 172 77.9 C175.9 78.1 179.8 77.9 183.7 77.6 C187.6 77.4 191.5 76.7 195.4 76.2 C199.3 75.8 203.2 75.4 207.1 75.1 C211 74.7 214.9 74.3 218.7 73.9 C222.6 73.5 226.8 73.1 230.4 72.7 C234 72.4 237.5 71.9 240.3 71.8 C243.2 71.6 246.4 71.8 247.7 71.8 L247.7 127.1 L-8 127.1Z" fill="#81cc59"/>
<path d="M-8 74.9 C-6.6 74.9 -4 75 0.4 74.9 C4.7 74.7 12 74.3 17.9 74 C23.7 73.7 29.5 73.3 35.4 73.1 C41.2 73 47.1 73.1 52.9 73.1 C58.7 73.1 66 73.2 70.4 73.1 C74.8 73 76.3 72.9 79.2 72.6 C82.1 72.3 84.7 71.7 87.9 71.4 C91.2 71 95 70.4 98.5 70.5 C102 70.6 105.3 71.3 109 71.9 C112.6 72.5 115.5 73.2 120.4 74 C125.2 74.8 132 75.6 137.9 76.6 C143.7 77.6 149.5 79.2 155.4 80.1 C161.2 81 167.1 81.7 172.9 81.9 C178.7 82.1 184.6 81.7 190.4 81.3 C196.3 81 202.1 80.2 207.9 79.6 C213.8 78.9 220.1 78.1 225.5 77.5 C230.9 76.9 236.7 76.3 240.4 76.1 C244.1 75.8 246.4 76.1 247.7 76.1 L247.7 127.1 L-8 127.1Z" fill="#debd29"/>
<path d="M-8 83.6 C-6.6 83.6 -4 83.7 0.4 83.6 C4.7 83.5 12 83.2 17.9 83.1 C23.7 82.9 29.5 82.9 35.4 82.7 C41.2 82.6 47.1 82.5 52.9 82.4 C58.7 82.2 65.8 82.2 70.4 81.9 C75.1 81.6 77.4 81.1 80.9 80.6 C84.4 80.1 87.4 79.1 91.5 78.9 C95.5 78.7 100.6 79 105.5 79.2 C110.3 79.5 115 80 120.4 80.5 C125.8 81 132 81.5 137.9 82.2 C143.7 83 149.5 84.3 155.4 85 C161.2 85.7 167.1 86.4 172.9 86.6 C178.7 86.8 184.6 86.6 190.4 86.2 C196.3 85.9 202.1 85.1 207.9 84.5 C213.8 83.9 220.1 83 225.5 82.4 C230.9 81.8 236.7 81.2 240.4 81 C244.1 80.8 246.4 81 247.7 81 L247.7 127.1 L-8 127.1Z" fill="#feca33"/>
<path d="M-8 91.9 C-6.6 91.9 -4 91.8 0.4 91.9 C4.7 91.9 12 92.2 17.9 92.4 C23.7 92.5 29.5 92.7 35.4 92.7 C41.2 92.7 47.1 92.6 52.9 92.4 C58.7 92.2 66 91.9 70.4 91.5 C74.8 91.1 76.3 90.5 79.2 89.7 C82.1 89 84.7 87.8 87.9 87.1 C91.2 86.5 95 86.1 98.5 85.9 C102 85.7 105.3 85.7 109 85.7 C112.6 85.7 115.5 85.7 120.4 85.9 C125.2 86.1 132 86.5 137.9 87.1 C143.7 87.8 149.5 89 155.4 89.7 C161.2 90.5 167.1 91.3 172.9 91.5 C178.7 91.7 184.6 91.5 190.4 91.1 C196.3 90.8 202.1 90 207.9 89.4 C213.8 88.8 220.1 88 225.5 87.5 C230.9 86.9 236.7 86.4 240.4 86.2 C244.1 86 246.4 86.2 247.7 86.2 L247.7 127.1 L-8 127.1Z" fill="#f5ea24"/>
<path d="M-8 102.4 C-6.6 102.4 -4 102.3 0.4 102.4 C4.7 102.4 12 102.8 17.9 102.9 C23.7 103 29.5 103 35.4 102.9 C41.2 102.7 47.1 102.4 52.9 102 C58.7 101.6 66 101 70.4 100.3 C74.8 99.5 76.3 98.7 79.2 97.6 C82.1 96.6 84.7 95.1 87.9 94.1 C91.2 93.2 95 92.3 98.5 91.9 C102 91.4 105.3 91.3 109 91.1 C112.6 91 115.5 91 120.4 91.1 C125.2 91.3 132 91.2 137.9 91.9 C143.7 92.5 149.5 94.2 155.4 95 C161.2 95.8 167.1 96.6 172.9 96.8 C178.7 96.9 184.6 96.3 190.4 95.9 C196.3 95.4 202.1 94.7 207.9 94.1 C213.8 93.5 220.1 92.9 225.5 92.4 C230.9 91.9 236.7 91.4 240.4 91.1 C244.1 90.9 246.4 91.1 247.7 91.1 L247.7 127.1 L-8 127.1Z" fill="#f9fb15"/>
<use href="#coast" stroke="#000" stroke-width="1.5" stroke-linejoin="round" stroke-linecap="round"/>
</g>
<path d="M9.9 119.1 v-2.4 M9.9 0 v2.4 M109.9 119.1 v-2.4 M109.9 0 v2.4 M209.9 119.1 v-2.4 M209.9 0 v2.4 M0 100 h2.4 M239.7 100 h-2.4 M0 60 h2.4 M239.7 60 h-2.4 M0 20 h2.4 M239.7 20 h-2.4" stroke="#262626" stroke-width="0.6" fill="none"/>
<rect x="0" y="0" width="239.65" height="119.1" fill="none" stroke="#262626" stroke-width="0.7"/>
<text class="a" x="-6.0" y="106.2" text-anchor="end">40</text>
<text class="a" x="-6.0" y="66.2" text-anchor="end">60</text>
<text class="a" x="-6.0" y="26.2" text-anchor="end">80</text>
<text class="h" x="119" y="-6.0" text-anchor="middle">C3</text>
</g>
<rect x="275.4" y="414.1" width="22.4" height="119.1" fill="url(#pg)" stroke="#3a3a3a" stroke-width="0.5"/>
<text class="c" x="302.9" y="419.9">5800</text>
<path d="M297.8 473.9 h-1.8" stroke="#262626" stroke-width="0.6"/>
<text class="c" x="302.9" y="479.7">5600</text>
<text class="c" x="302.9" y="539.5">5400</text>
<g transform="translate(23.65 594.3)">
<g clip-path="url(#cp)">
<rect x="-1" y="-1" width="241.65" height="121.1" fill="#3e26a8"/>
<path d="M-8 32.1 C-6.6 32.1 -4 32 0.4 32.1 C4.7 32.2 12 32.7 17.9 32.6 C23.7 32.6 29.5 32.3 35.4 31.8 C41.2 31.2 47.1 30.4 52.9 29.5 C58.7 28.5 64.6 27.4 70.4 26 C76.3 24.5 82.1 22.5 87.9 20.7 C93.8 19 100.1 17.2 105.5 15.5 C110.9 13.8 115.9 12 120.4 10.6 C124.8 9.1 128.1 7.9 132 6.7 C135.9 5.5 140.2 4.2 143.7 3.2 C147.2 2.2 150.5 1.7 153.1 0.9 C155.6 0.1 157.9 -1.3 158.9 -1.7 L247.7 -8 L247.7 127.1 L-8 127.1Z" fill="#484cef"/>
<path d="M-8 40.9 C-6.6 40.9 -4 40.8 0.4 40.9 C4.7 41 12 41.5 17.9 41.4 C23.7 41.3 29.5 41 35.4 40.3 C41.2 39.7 48.7 38.4 52.9 37.4 C57.1 36.4 57.3 35.1 60.4 34.4 C63.4 33.7 68 33.6 71.3 32.9 C74.6 32.3 76.9 31.6 80.3 30.4 C83.8 29.1 88.1 26.6 92 25.5 C95.9 24.4 99.8 24.2 103.7 23.7 C107.6 23.3 112.6 23.6 115.4 22.8 C118.2 22 117.6 19.9 120.3 19 C123.1 18 128.1 17.7 132 17.2 C135.9 16.7 139.8 16.4 143.7 16.1 C147.6 15.7 151.5 15.3 155.4 14.9 C159.3 14.5 163.2 14 167.1 13.7 C171 13.4 174.9 13.3 178.7 13.1 C182.6 13 186.8 12.9 190.4 12.8 C194 12.7 197.4 12.7 200.3 12.5 C203.3 12.4 203.8 12.1 207.9 11.6 C212.1 11.1 220.1 10 225.5 9.3 C230.9 8.7 236.7 7.9 240.4 7.6 C244.1 7.3 246.4 7.6 247.7 7.6 L247.7 127.1 L-8 127.1Z" fill="#347afd"/>
<path d="M-8 49.6 C-6.6 49.6 -4 49.6 0.4 49.6 C4.7 49.6 12 49.9 17.9 49.6 C23.7 49.3 28.3 49.5 35.4 47.9 C42.5 46.3 54.4 41.3 60.4 39.9 C66.3 38.4 67.9 39.6 71.3 39.2 C74.7 38.7 77.7 37.9 80.8 37.3 C83.8 36.8 87.1 36.6 89.5 35.9 C92 35.1 93 33.9 95.4 32.9 C97.8 32 100.8 30.8 104.1 30.4 C107.5 30 111.6 30.6 115.4 30.7 C119.2 30.9 123.2 31 127.1 31.3 C131 31.6 136 33 138.7 32.5 C141.5 32 140.9 28.8 143.7 28.3 C146.5 27.8 151.5 29.3 155.4 29.5 C159.3 29.7 163.2 29.7 167.1 29.5 C171 29.3 174.9 28.7 178.7 28.3 C182.6 27.9 186.8 27.4 190.4 27.1 C194 26.9 198 26.5 200.3 26.6 C202.7 26.7 202 27.5 204.4 27.7 C206.9 27.9 212 27.4 215 27.7 C217.9 28 219.6 28.9 222 29.5 C224.3 30.1 226.9 31.2 229 31.2 C231 31.2 232.3 30.1 234.2 29.5 C236.1 28.9 238.1 28 240.4 27.7 C242.6 27.4 246.4 27.7 247.7 27.7 L247.7 127.1 L-8 127.1Z" fill="#21a3e3"/>
<path d="M-8 58.4 C-6.6 58.4 -4 58.4 0.4 58.4 C4.7 58.4 12 58.7 17.9 58.4 C23.7 58.1 29.5 57.5 35.4 56.6 C41.2 55.8 48.7 54 52.9 53.1 C57.1 52.2 57.9 51.8 60.4 51.2 C62.8 50.6 65.2 50.2 67.6 49.6 C70.1 49 72.8 48.3 74.9 47.7 C77.1 47 78.4 46.3 80.8 45.7 C83.2 45.2 86.9 44.6 89.5 44.3 C92.2 43.9 94.4 43.7 96.8 43.5 C99.3 43.3 101.9 43.1 104.1 43 C106.4 42.9 108.5 42.9 110.3 42.8 C112.2 42.7 112.6 42.3 115.4 42.4 C118.2 42.5 123.2 43.1 127.1 43.6 C131 44.1 134.9 44.5 138.7 45.3 C142.6 46.1 146.8 47.3 150.4 48.2 C154 49.2 156.6 49 160.3 51.2 C164.1 53.3 167.9 58.6 172.9 61 C177.9 63.4 184.6 64.4 190.4 65.4 C196.3 66.4 202.1 67 207.9 67.1 C213.8 67.3 220.1 66.7 225.5 66.3 C230.9 65.8 236.7 64.8 240.4 64.5 C244.1 64.2 246.4 64.5 247.7 64.5 L247.7 127.1 L-8 127.1Z" fill="#12beb9"/>
<path d="M-8 68.9 C-6.6 68.9 -4 69 0.4 68.9 C4.7 68.8 12 68.7 17.9 68.4 C23.7 68.1 29.5 67.6 35.4 67.1 C41.2 66.7 48.5 66 52.9 65.4 C57.3 64.8 58.7 64.4 61.7 63.6 C64.6 62.9 67.3 61.7 70.4 61 C73.6 60.3 77.6 59.9 80.4 59.3 C83.2 58.6 85 57.7 87.4 57 C89.7 56.3 91.6 55.7 94.4 55.2 C97.1 54.8 100.2 54.2 103.7 54.1 C107.2 53.9 111.5 54 115.4 54.3 C119.3 54.6 123.2 55.2 127.1 55.8 C131 56.5 134.9 57.2 138.7 58.2 C142.6 59.1 146.8 60.4 150.4 61.7 C154 62.9 156.6 64.3 160.3 65.5 C164.1 66.7 167.9 67.5 172.9 68.9 C177.9 70.3 184.6 73.1 190.4 74.2 C196.3 75.2 202.1 75 207.9 75 C213.8 75 220.1 74.6 225.5 74.2 C230.9 73.7 236.7 72.7 240.4 72.4 C244.1 72.1 246.4 72.4 247.7 72.4 L247.7 127.1 L-8 127.1Z" fill="#5ccc76"/>
<path d="M-8 74.2 C-6.6 74.2 -4 74.1 0.4 74.2 C4.7 74.2 12 74.3 17.9 74.3 C23.7 74.4 29.5 74.4 35.4 74.3 C41.2 74.3 47.1 74.5 52.9 74.2 C58.7 73.8 66 73 70.4 72.4 C74.8 71.8 76.3 71.2 79.2 70.7 C82.1 70.1 83.6 69.5 87.9 68.9 C92.3 68.3 101.7 67.6 105.5 67.1 C109.3 66.7 108.3 66.3 110.7 66 C113.1 65.7 116.9 65.6 120.1 65.5 C123.2 65.5 126.3 65.5 129.4 65.8 C132.5 66 134.4 66.2 138.7 66.9 C143.1 67.7 149.7 68.8 155.4 70.3 C161.1 71.8 167.1 74.3 172.9 76.1 C178.7 77.9 184.6 80.3 190.4 81.2 C196.3 82 202.1 81.5 207.9 81.2 C213.8 80.9 220.1 80 225.5 79.4 C230.9 78.8 236.7 78 240.4 77.7 C244.1 77.4 246.4 77.7 247.7 77.7 L247.7 127.1 L-8 127.1Z" fill="#d3bf27"/>
<path d="M-8 80.6 C-6.6 80.6 -4 80.6 0.4 80.6 C4.7 80.7 12 80.9 17.9 81 C23.7 81.1 29.5 81.2 35.4 81.3 C41.2 81.5 47.1 81.8 52.9 81.7 C58.7 81.6 66 81.1 70.4 80.6 C74.8 80.2 76.3 79.5 79.2 78.9 C82.1 78.2 84.7 77.4 87.9 76.8 C91.2 76.2 95 75.7 98.5 75.4 C102 75 105.3 74.9 109 74.7 C112.6 74.5 116.7 74.2 120.4 74.2 C124 74.1 127.4 74.1 130.9 74.2 C134.4 74.2 137.3 74.2 141.4 74.7 C145.5 75.2 150.1 76 155.4 77.3 C160.6 78.6 167.1 81 172.9 82.6 C178.7 84.1 184.6 85.8 190.4 86.4 C196.3 87.1 202.1 86.7 207.9 86.4 C213.8 86.1 220.1 85.3 225.5 84.7 C230.9 84.1 236.7 83.2 240.4 82.9 C244.1 82.6 246.4 82.9 247.7 82.9 L247.7 127.1 L-8 127.1Z" fill="#fbd22f"/>
<path d="M-8 87.8 C-6.6 87.8 -4 87.7 0.4 87.8 C4.7 87.9 12 88.1 17.9 88.5 C23.7 88.9 29.5 89.5 35.4 90.1 C41.2 90.7 47.7 91.8 52.9 92.2 C58.2 92.6 63.1 92.6 66.9 92.6 C70.7 92.5 73.1 92.3 75.7 91.7 C78.3 91 80.1 89.9 82.7 88.7 C85.3 87.5 88.2 85.6 91.5 84.7 C94.7 83.7 98.5 83.4 102 82.9 C105.5 82.5 109.4 82.2 112.5 82 C115.5 81.8 117.3 81.8 120.4 81.7 C123.4 81.6 127.4 81.3 130.9 81.3 C134.4 81.3 137.3 81.2 141.4 81.7 C145.5 82.2 150.1 82.9 155.4 84.1 C160.6 85.4 167.1 87.7 172.9 89 C178.7 90.4 184.6 91.7 190.4 92.2 C196.3 92.7 202.1 92.5 207.9 92.2 C213.8 91.9 220.1 91 225.5 90.4 C230.9 89.9 236.7 89.3 240.4 89 C244.1 88.8 246.4 89 247.7 89 L247.7 127.1 L-8 127.1Z" fill="#f9fb15"/>
<use href="#coast" stroke="#000" stroke-width="1.5" stroke-linejoin="round" stroke-linecap="round"/>
</g>
<path d="M9.9 119.1 v-2.4 M9.9 0 v2.4 M109.9 119.1 v-2.4 M109.9 0 v2.4 M209.9 119.1 v-2.4 M209.9 0 v2.4 M0 100 h2.4 M239.7 100 h-2.4 M0 60 h2.4 M239.7 60 h-2.4 M0 20 h2.4 M239.7 20 h-2.4" stroke="#262626" stroke-width="0.6" fill="none"/>
<rect x="0" y="0" width="239.65" height="119.1" fill="none" stroke="#262626" stroke-width="0.7"/>
<text class="a" x="-6.0" y="106.2" text-anchor="end">40</text>
<text class="a" x="-6.0" y="66.2" text-anchor="end">60</text>
<text class="a" x="-6.0" y="26.2" text-anchor="end">80</text>
<text class="a" x="9.6" y="140.6" text-anchor="middle">200</text>
<text class="a" x="109.6" y="140.6" text-anchor="middle">250</text>
<text class="a" x="209.6" y="140.6" text-anchor="middle">300</text>
<text class="h" x="119" y="-6.0" text-anchor="middle">C4</text>
</g>
<rect x="275.4" y="594.8" width="22.4" height="119.1" fill="url(#pg)" stroke="#3a3a3a" stroke-width="0.5"/>
<text class="c" x="302.9" y="600.6">5800</text>
<path d="M297.8 654.6 h-1.8" stroke="#262626" stroke-width="0.6"/>
<text class="c" x="302.9" y="660.4">5600</text>
<text class="c" x="302.9" y="720.2">5400</text>
<g transform="translate(374.35 52.4)">
<g clip-path="url(#cp)">
<rect x="-1" y="-1" width="241.65" height="121.1" fill="#4537d6"/>
<path d="M-8 1.4 C-6.7 1.4 -4 1.2 -0.4 1.4 C3.3 1.5 9 1.7 13.7 2.2 C18.3 2.8 23 3.5 27.7 4.5 C32.4 5.5 37 6.7 41.7 8.4 C46.4 10 51 12.2 55.7 14.5 C60.4 16.8 65.9 20 69.7 22.4 C73.5 24.7 75.6 26.5 78.5 28.5 C81.4 30.6 84 32.6 87.2 34.6 C90.5 36.7 94.3 39 97.8 40.8 C101.3 42.6 104.6 44.1 108.3 45.5 C111.9 46.9 116 48.2 119.7 49.2 C123.3 50.1 126.7 50.6 130.2 51.3 C133.7 51.9 136.6 52.4 140.7 53 C144.8 53.6 149.4 54.5 154.7 54.8 C159.9 55.1 166.4 55.2 172.2 54.8 C178 54.3 184.5 53.3 189.7 52.2 C195 51 199.7 49.4 203.7 47.8 C207.8 46.2 211 44.3 214.3 42.5 C217.5 40.8 220.7 39 223 37.3 C225.3 35.5 226.5 33.5 228.3 32 C230 30.6 231.6 29.4 233.5 28.5 C235.4 27.6 237.3 27 239.7 26.8 C242 26.5 246.3 26.8 247.7 26.8 L247.7 127.1 L-8 127.1Z" fill="#4660fc"/>
<path d="M-8 30.3 C-6.7 30.3 -4 30.1 -0.4 30.3 C3.3 30.4 9 30.6 13.7 31.1 C18.3 31.6 23 32.4 27.7 33.2 C32.4 34.1 37 35.1 41.7 36.4 C46.4 37.6 51 39.2 55.7 40.8 C60.4 42.4 65.1 44.3 69.7 46 C74.4 47.8 79.1 49.4 83.7 51.3 C88.4 53.2 93.7 55.7 97.8 57.4 C101.8 59.2 104.6 60.3 108.3 61.8 C111.9 63.3 114.8 65.3 119.7 66.2 C124.5 67 131.3 66.8 137.2 67 C143 67.3 148.8 67.7 154.7 67.6 C160.5 67.4 166.4 66.8 172.2 66.2 C178 65.5 183.9 64.4 189.7 63.5 C195.6 62.7 201.4 61.7 207.2 60.9 C213.1 60.1 219.4 59.4 224.8 58.8 C230.2 58.2 235.8 57.6 239.7 57.4 C243.5 57.2 246.3 57.4 247.7 57.4 L247.7 127.1 L-8 127.1Z" fill="#2d8bf4"/>
<path d="M-8 51.3 C-6.7 51.3 -4 51.4 -0.4 51.3 C3.3 51.2 9 50.6 13.7 50.8 C18.3 50.9 23 51.5 27.7 52.2 C32.4 52.8 37 53.8 41.7 54.8 C46.4 55.8 51 57 55.7 58.3 C60.4 59.6 65.1 61.2 69.7 62.7 C74.4 64.1 79.1 65.6 83.7 67 C88.4 68.5 93.7 70.3 97.8 71.4 C101.8 72.6 104.6 73.2 108.3 74.1 C111.9 74.9 114.8 76.2 119.7 76.7 C124.5 77.2 131.3 77 137.2 77 C143 77.1 148.8 77.2 154.7 77 C160.5 76.8 166.4 76.4 172.2 75.8 C178 75.2 183.9 74.3 189.7 73.5 C195.6 72.7 201.4 71.9 207.2 71.1 C213.1 70.3 219.4 69.4 224.8 68.8 C230.2 68.2 235.8 67.8 239.7 67.6 C243.5 67.4 246.3 67.6 247.7 67.6 L247.7 127.1 L-8 127.1Z" fill="#17aeda"/>
<path d="M-8 71.4 C-6.7 71.4 -3.4 71.9 -0.4 71.4 C2.7 71 6.7 69.5 10.2 68.8 C13.7 68.1 16.6 67.3 20.7 67 C24.8 66.8 29.4 67.1 34.7 67.6 C39.9 68.1 46.4 69.1 52.2 70 C58 71 63.9 72.1 69.7 73.2 C75.6 74.3 81.4 75.7 87.2 76.7 C93.1 77.7 99.4 78.6 104.8 79.3 C110.2 80 114.3 80.6 119.7 81.1 C125.1 81.5 131.3 81.8 137.2 81.9 C143 82.1 148.8 82.2 154.7 81.9 C160.5 81.7 166.4 81.1 172.2 80.5 C178 80 183.9 79.4 189.7 78.8 C195.6 78.1 201.4 77.4 207.2 76.7 C213.1 76 219.4 75.1 224.8 74.6 C230.2 74.1 235.8 73.7 239.7 73.5 C243.5 73.4 246.3 73.5 247.7 73.5 L247.7 127.1 L-8 127.1Z" fill="#28c3ab"/>
<path d="M-8 81.9 C-6.7 81.9 -3.4 82.5 -0.4 81.9 C2.7 81.4 6.7 79.4 10.2 78.4 C13.7 77.4 16.6 76.5 20.7 76 C24.8 75.5 29.4 75.2 34.7 75.3 C39.9 75.3 46.4 75.7 52.2 76.3 C58 77 63.9 78.3 69.7 79.3 C75.6 80.3 81.4 81.4 87.2 82.3 C93.1 83.2 99.4 84 104.8 84.6 C110.2 85.2 114.3 85.4 119.7 85.8 C125.1 86.2 131.3 86.6 137.2 86.8 C143 87.1 148.8 87.4 154.7 87.2 C160.5 87 166.4 86.3 172.2 85.8 C178 85.3 183.9 84.7 189.7 84 C195.6 83.4 201.4 82.6 207.2 81.9 C213.1 81.3 219.4 80.6 224.8 80.2 C230.2 79.8 235.8 79.5 239.7 79.3 C243.5 79.2 246.3 79.3 247.7 79.3 L247.7 127.1 L-8 127.1Z" fill="#70cd65"/>
<path d="M-8 91.4 C-6.7 91.4 -3.4 92 -0.4 91.4 C2.7 90.8 6.7 88.6 10.2 87.5 C13.7 86.5 16.6 85.7 20.7 85.1 C24.8 84.5 29.4 83.8 34.7 83.7 C39.9 83.5 46.4 83.8 52.2 84.2 C58 84.7 63.9 85.5 69.7 86.3 C75.6 87.1 81.4 88.2 87.2 88.9 C93.1 89.7 99.4 90.3 104.8 90.7 C110.2 91.1 114.3 91.3 119.7 91.6 C125.1 91.9 131.3 92.2 137.2 92.5 C143 92.7 148.8 92.9 154.7 92.8 C160.5 92.7 166.4 92.2 172.2 91.6 C178 91 183.9 90 189.7 89.3 C195.6 88.6 201.4 87.8 207.2 87.2 C213.1 86.6 219.4 85.9 224.8 85.4 C230.2 85 235.8 84.7 239.7 84.6 C243.5 84.4 246.3 84.6 247.7 84.6 L247.7 127.1 L-8 127.1Z" fill="#d4bf28"/>
<path d="M-8 100.5 C-6.7 100.5 -3.4 101.2 -0.4 100.5 C2.7 99.8 6.7 97.5 10.2 96.3 C13.7 95.1 16.6 94.2 20.7 93.3 C24.8 92.5 29.4 91.6 34.7 91.2 C39.9 90.8 46.4 90.7 52.2 91.1 C58 91.4 63.9 92.6 69.7 93.3 C75.6 94.1 81.4 94.9 87.2 95.6 C93.1 96.3 99.4 96.9 104.8 97.4 C110.2 97.8 114.3 97.8 119.7 98.1 C125.1 98.4 131.3 98.9 137.2 99.1 C143 99.3 148.8 99.3 154.7 99.1 C160.5 98.9 166.4 98.4 172.2 97.7 C178 97 183.9 96 189.7 95.1 C195.6 94.2 201.4 93.2 207.2 92.5 C213.1 91.7 219.4 91.1 224.8 90.7 C230.2 90.3 235.8 90 239.7 89.8 C243.5 89.7 246.3 89.8 247.7 89.8 L247.7 127.1 L-8 127.1Z" fill="#fdcd32"/>
<path d="M-8 107.9 C-6.7 107.9 -3.4 108.5 -0.4 107.9 C2.7 107.3 6.7 105.3 10.2 104.2 C13.7 103.1 16.6 102.1 20.7 101.2 C24.8 100.3 29.4 99.2 34.7 98.8 C39.9 98.3 46.4 98.2 52.2 98.6 C58 98.9 63.9 100.1 69.7 100.9 C75.6 101.6 81.4 102.6 87.2 103.3 C93.1 104 99.4 104.8 104.8 105.2 C110.2 105.7 114.3 106.1 119.7 106.1 C125.1 106.2 131.3 105.8 137.2 105.6 C143 105.4 148.8 105.2 154.7 104.7 C160.5 104.2 166.4 103.4 172.2 102.6 C178 101.8 183.9 100.7 189.7 99.8 C195.6 98.9 201.4 98.1 207.2 97.4 C213.1 96.7 219.4 96.1 224.8 95.6 C230.2 95.1 235.8 94.7 239.7 94.6 C243.5 94.4 246.3 94.6 247.7 94.6 L247.7 127.1 L-8 127.1Z" fill="#f9fb15"/>
<use href="#coast" stroke="#000" stroke-width="1.5" stroke-linejoin="round" stroke-linecap="round"/>
</g>
<path d="M9.9 119.1 v-2.4 M9.9 0 v2.4 M109.9 119.1 v-2.4 M109.9 0 v2.4 M209.9 119.1 v-2.4 M209.9 0 v2.4 M0 100 h2.4 M239.7 100 h-2.4 M0 60 h2.4 M239.7 60 h-2.4 M0 20 h2.4 M239.7 20 h-2.4" stroke="#262626" stroke-width="0.6" fill="none"/>
<rect x="0" y="0" width="239.65" height="119.1" fill="none" stroke="#262626" stroke-width="0.7"/>
<text class="h" x="119" y="-6.0" text-anchor="middle">C1</text>
</g>
<rect x="626.15" y="52.9" width="22.4" height="119.1" fill="url(#pg)" stroke="#3a3a3a" stroke-width="0.5"/>
<text class="c" x="654" y="58.7">5600</text>
<path d="M648.5 92.8 h-1.8" stroke="#262626" stroke-width="0.6"/>
<text class="c" x="654" y="98.6">5400</text>
<path d="M648.5 132.6 h-1.8" stroke="#262626" stroke-width="0.6"/>
<text class="c" x="654" y="138.4">5200</text>
<text class="c" x="654" y="178.3">5000</text>
<g transform="translate(374.35 233.2)">
<g clip-path="url(#cp)">
<rect x="-1" y="-1" width="241.65" height="121.1" fill="#465efb"/>
<path d="M116.1 24.3 C116.1 20.2 117.6 18.6 119.6 16.4 C121.7 14.3 124.9 12.6 128.4 11.2 C131.9 9.8 134.8 9.1 140.7 8.2 C146.5 7.3 155.3 6.5 163.4 5.9 C171.6 5.3 181 5.1 189.7 4.7 C198.5 4.3 206.7 4 216 3.7 C225.3 3.3 239.7 -2 245.8 2.6 C251.9 7.2 252.8 22 252.8 31.3 C252.8 40.6 248 53.8 245.8 58.5 C243.6 63.2 243.2 58.3 239.7 59.4 C236.2 60.4 231.6 62.9 224.8 65 C217.9 67.1 207.2 70.7 198.5 72 C189.7 73.2 181 73.5 172.2 72.5 C163.4 71.5 152.9 68.8 145.9 66 C138.9 63.2 134.5 60 130.2 55.9 C125.8 51.7 122 46.2 119.6 41 C117.3 35.7 116.1 28.4 116.1 24.3Z" fill="#4537d6"/>
<path d="M140.7 43.6 C139.8 40.4 141.8 37.8 144.2 34.8 C146.5 31.9 150 28.3 154.7 26.1 C159.4 23.9 166.4 22.5 172.2 21.7 C178 20.9 183.9 20.7 189.7 21.2 C195.6 21.6 202 22.6 207.2 24.3 C212.5 26 217.8 28.4 221.3 31.3 C224.8 34.3 227.7 38.3 228.3 41.8 C228.9 45.4 227.1 49.3 224.8 52.4 C222.4 55.4 218.6 58.3 214.3 60.2 C209.9 62.1 204 63 198.5 63.7 C192.9 64.5 186.8 65.1 181 64.6 C175.1 64.2 168.7 62.9 163.4 61.1 C158.2 59.4 153.2 57 149.4 54.1 C145.6 51.2 141.5 46.8 140.7 43.6Z" fill="#3e26a8"/>
<path d="M-8 14.2 C-6.7 14.2 -4.5 14.1 -0.4 14.2 C3.8 14.3 11.3 14.4 17.2 14.7 C23 15 28.8 15.3 34.7 15.9 C40.5 16.5 46.4 17.2 52.2 18.2 C58 19.2 64.5 20.4 69.7 21.7 C75 23 79.7 24.5 83.7 26.1 C87.8 27.7 90.8 29.1 94.3 31.3 C97.8 33.5 101.8 36.6 104.8 39.2 C107.7 41.8 109.3 44.3 111.8 47.1 C114.3 49.9 116.9 52.9 119.7 55.9 C122.4 58.8 125.5 62.5 128.4 65 C131.3 67.4 133.4 68.8 137.2 70.6 C141 72.3 145.9 74.1 151.2 75.5 C156.4 76.8 162.9 78.1 168.7 78.6 C174.5 79.2 180.4 79.3 186.2 79 C192.1 78.6 197.9 77.6 203.7 76.5 C209.6 75.5 215.3 74.1 221.3 72.5 C227.2 71 235.3 68.1 239.7 67.2 C244.1 66.4 246.3 67.2 247.7 67.2 L247.7 127.1 L-8 127.1Z" fill="#2c8ff1"/>
<path d="M-8 26.1 C-6.7 26.1 -4.5 26 -0.4 26.1 C3.8 26.1 11.3 26.2 17.2 26.4 C23 26.7 28.8 26.9 34.7 27.5 C40.5 28.1 46.4 28.9 52.2 29.9 C58 31 64.5 32.4 69.7 34 C75 35.5 79.7 37.3 83.7 39.2 C87.8 41.2 90.8 43.2 94.3 45.7 C97.8 48.2 101.8 51.5 104.8 54.1 C107.7 56.7 109.3 58.6 111.8 61.1 C114.3 63.6 116.9 66.8 119.7 69 C122.4 71.2 125.5 72.7 128.4 74.3 C131.3 75.8 133.4 76.8 137.2 78.1 C141 79.4 145.9 81.1 151.2 82.1 C156.4 83.2 162.9 84.2 168.7 84.6 C174.5 84.9 180.4 84.7 186.2 84.2 C192.1 83.8 197.9 82.7 203.7 81.8 C209.6 80.9 215.3 79.9 221.3 78.6 C227.2 77.4 235.3 75 239.7 74.3 C244.1 73.5 246.3 74.3 247.7 74.3 L247.7 127.1 L-8 127.1Z" fill="#07b5d0"/>
<path d="M-8 38.7 C-6.7 38.7 -4 38.9 -0.4 38.7 C3.3 38.5 9 37.8 13.7 37.5 C18.3 37.2 23 36.9 27.7 36.9 C32.4 36.9 37 37 41.7 37.5 C46.4 37.9 51 38.7 55.7 39.7 C60.4 40.8 65.6 42.1 69.7 43.6 C73.8 45.1 76.7 46.8 80.2 48.9 C83.7 50.9 87.2 53.2 90.8 55.9 C94.3 58.5 97.8 62 101.3 64.6 C104.8 67.2 108.7 69.6 111.8 71.6 C114.8 73.7 116.9 75.4 119.7 76.9 C122.4 78.4 125.5 79.6 128.4 80.7 C131.3 81.8 133.4 82.5 137.2 83.5 C141 84.6 145.9 86 151.2 86.9 C156.4 87.7 162.9 88.6 168.7 88.8 C174.5 89 180.4 88.7 186.2 88.3 C192.1 87.8 197.9 86.9 203.7 86 C209.6 85.1 215.3 84.2 221.3 83 C227.2 81.8 235.3 79.4 239.7 78.6 C244.1 77.9 246.3 78.6 247.7 78.6 L247.7 127.1 L-8 127.1Z" fill="#44cb89"/>
<path d="M-8 100.5 C-7 100.5 -3.4 100.7 -2.1 100.5 C-0.8 100.4 -2 101 -0.4 99.7 C1.3 98.3 5.3 96 7.5 92.7 C9.8 89.3 12.2 83.9 13.3 79.5 C14.5 75.1 13.9 70.3 14.4 66.4 C14.8 62.5 14.7 58.8 15.9 56.2 C17.2 53.6 19.2 52 21.7 50.8 C24.3 49.6 27.3 48.9 31.2 48.9 C35.1 48.8 40.5 49.7 45.2 50.3 C49.9 50.8 55.1 51.4 59.2 52.4 C63.3 53.3 66.5 54.5 69.7 55.9 C72.9 57.2 75.6 58.5 78.5 60.2 C81.4 62 84.6 64.2 87.2 66.4 C89.9 68.6 91.9 71.2 94.3 73.4 C96.6 75.6 98.6 77.8 101.3 79.5 C103.9 81.3 107 82.6 110 83.9 C113.1 85.1 116.6 86.2 119.7 87 C122.7 87.9 125.5 88.2 128.4 88.8 C131.3 89.4 133.4 89.8 137.2 90.5 C141 91.3 145.9 92.4 151.2 93 C156.4 93.6 162.9 94 168.7 94.1 C174.5 94.1 180.4 93.8 186.2 93.2 C192.1 92.6 197.9 91.5 203.7 90.5 C209.6 89.6 215.3 88.9 221.3 87.7 C227.2 86.6 235.3 84.2 239.7 83.5 C244.1 82.8 246.3 83.5 247.7 83.5 L247.7 127.1 L-8 127.1Z" fill="#c1c32d"/>
<path d="M-8 109.3 C-7 109.3 -3.4 109.4 -2.1 109.3 C-0.8 109.2 -2.4 109.4 -0.4 108.6 C1.7 107.8 6.7 106.3 10.2 104.7 C13.7 103.2 17.6 101.6 20.7 99.5 C23.7 97.3 26.6 94.6 28.6 91.8 C30.5 88.9 31.2 85.5 32.2 82.5 C33.3 79.5 33.6 76.1 34.7 73.7 C35.8 71.4 37.1 69.6 38.9 68.3 C40.6 67 42.4 66.3 45.2 66 C48 65.7 52.2 65.9 55.7 66.4 C59.2 66.9 62.7 67.5 66.2 69 C69.7 70.5 73.8 73.1 76.7 75.1 C79.7 77.2 81.4 79.2 83.7 81.3 C86.1 83.3 88.4 85.8 90.8 87.4 C93.1 89 94.8 89.9 97.8 90.9 C100.7 91.9 104.6 92.8 108.3 93.5 C111.9 94.3 116.3 94.8 119.7 95.3 C123 95.8 125.5 96.2 128.4 96.7 C131.3 97.1 133.4 97.5 137.2 97.9 C141 98.3 145.9 99 151.2 99.3 C156.4 99.6 162.9 100 168.7 99.8 C174.5 99.7 180.4 99.2 186.2 98.4 C192.1 97.7 197.9 96.4 203.7 95.5 C209.6 94.5 215.3 93.8 221.3 92.7 C227.2 91.5 235.3 89.4 239.7 88.8 C244.1 88.2 246.3 88.8 247.7 88.8 L247.7 127.1 L-8 127.1Z" fill="#fec835"/>
<path d="M-8 114 C-6.7 114 -3.4 114.2 -0.4 114 C2.7 113.9 6.7 113.5 10.2 113 C13.7 112.4 17.2 111.8 20.7 110.7 C24.2 109.6 28 108.1 31.2 106.1 C34.4 104.2 37.3 101.1 39.9 99 C42.6 96.9 44.3 94.8 47 93.5 C49.6 92.2 52.5 91.5 55.7 91.3 C58.9 91 62.7 91.1 66.2 91.8 C69.7 92.4 73.2 94 76.7 95.3 C80.2 96.6 83.7 98.3 87.2 99.7 C90.8 101 94.3 102.3 97.8 103.2 C101.3 104 104.6 104.5 108.3 104.9 C111.9 105.4 116 105.6 119.7 105.8 C123.3 106 126.7 106.2 130.2 106.3 C133.7 106.4 136.6 106.4 140.7 106.3 C144.8 106.2 150 106.1 154.7 105.8 C159.4 105.5 163.4 105.1 168.7 104.6 C174 104 180.4 103.1 186.2 102.3 C192.1 101.5 197.9 100.7 203.7 99.7 C209.6 98.6 215.3 97.3 221.3 96.2 C227.2 95 235.3 93.2 239.7 92.7 C244.1 92.1 246.3 92.7 247.7 92.7 L247.7 127.1 L-8 127.1Z" fill="#f9fb15"/>
<use href="#coast" stroke="#000" stroke-width="1.5" stroke-linejoin="round" stroke-linecap="round"/>
</g>
<path d="M9.9 119.1 v-2.4 M9.9 0 v2.4 M109.9 119.1 v-2.4 M109.9 0 v2.4 M209.9 119.1 v-2.4 M209.9 0 v2.4 M0 100 h2.4 M239.7 100 h-2.4 M0 60 h2.4 M239.7 60 h-2.4 M0 20 h2.4 M239.7 20 h-2.4" stroke="#262626" stroke-width="0.6" fill="none"/>
<rect x="0" y="0" width="239.65" height="119.1" fill="none" stroke="#262626" stroke-width="0.7"/>
<text class="h" x="119" y="-6.0" text-anchor="middle">C2</text>
</g>
<rect x="626.15" y="233.7" width="22.4" height="119.1" fill="url(#pg)" stroke="#3a3a3a" stroke-width="0.5"/>
<text class="c" x="654" y="239.5">5600</text>
<path d="M648.5 273.6 h-1.8" stroke="#262626" stroke-width="0.6"/>
<text class="c" x="654" y="279.4">5400</text>
<path d="M648.5 313.4 h-1.8" stroke="#262626" stroke-width="0.6"/>
<text class="c" x="654" y="319.2">5200</text>
<text class="c" x="654" y="359.1">5000</text>
<g transform="translate(374.35 413.6)">
<g clip-path="url(#cp)">
<rect x="-1" y="-1" width="241.65" height="121.1" fill="#4537d6"/>
<path d="M-8 72.2 C-6.7 72.2 -3.4 72.7 -0.4 72.2 C2.7 71.8 6.7 70.6 10.2 69.6 C13.7 68.6 17.5 67.4 20.7 66.1 C23.9 64.8 26.8 63.5 29.4 61.7 C32.1 60 34.4 57.3 36.4 55.6 C38.5 53.8 39.4 52.7 41.7 51.2 C44 49.7 47.2 48.1 50.5 46.8 C53.7 45.5 57.2 44.4 61 43.3 C64.8 42.2 68.9 41.1 73.2 40.3 C77.6 39.6 82.6 39.1 87.2 38.6 C91.9 38.1 97.2 37.8 101.3 37.5 C105.3 37.3 108.7 37.4 111.8 37.2 C114.8 37 115.4 36.4 119.7 36.3 C123.9 36.3 131.3 36.7 137.2 36.8 C143 37 148.8 37.3 154.7 37.2 C160.5 37.1 166.4 36.7 172.2 36.3 C178 36 183.9 35.4 189.7 35.1 C195.6 34.8 202 34.7 207.2 34.6 C212.5 34.4 217.8 34.3 221.3 34 C224.8 33.7 225.9 33.2 228.3 32.8 C230.6 32.4 233.4 31.9 235.3 31.6 C237.2 31.3 237.6 31.1 239.7 31.1 C241.7 31 246.3 31.1 247.7 31.1 L247.7 127.1 L-8 127.1Z" fill="#4660fc"/>
<path d="M-8 81.9 C-8.1 81.9 -9.6 82 -8.4 81.9 C-7.1 81.8 -6 82 -0.4 81.4 C5.3 80.8 15.6 81.8 25.6 78.4 C35.6 75 51.5 65.6 59.6 61 C67.8 56.4 69.6 53.6 74.6 50.7 C79.6 47.8 84.6 45.2 89.6 43.7 C94.6 42.2 99.6 41.9 104.6 41.9 C109.6 41.8 114.2 42.4 119.6 43.4 C125.1 44.4 131.3 46.7 137.2 47.7 C143 48.7 148.8 48.8 154.7 49.5 C160.5 50.1 166.4 50.8 172.2 51.6 C178 52.3 183.9 53.1 189.7 53.8 C195.6 54.6 201.4 55.3 207.2 56.1 C213.1 56.9 219.4 58 224.8 58.7 C230.2 59.5 235.8 60.5 239.7 60.8 C243.5 61.2 246.3 60.8 247.7 60.8 L247.7 127.1 L-8 127.1Z" fill="#2d8bf4"/>
<path d="M-8 89.7 C-8.1 89.7 -9.6 89.8 -8.4 89.7 C-7.1 89.6 -6 90 -0.4 89.3 C5.3 88.6 15.6 88.8 25.6 85.7 C35.6 82.5 51.5 74.6 59.6 70.4 C67.8 66.2 69.6 63.2 74.6 60.7 C79.6 58.2 84.6 56.7 89.6 55.5 C94.6 54.3 99.6 53.9 104.6 53.8 C109.6 53.7 114.2 54 119.6 54.9 C125.1 55.8 131.3 57.9 137.2 59.1 C143 60.3 148.8 61.1 154.7 62.1 C160.5 63 166.4 64.1 172.2 64.9 C178 65.6 183.9 66.2 189.7 66.6 C195.6 67.1 201.4 67.3 207.2 67.5 C213.1 67.7 219.4 67.7 224.8 67.8 C230.2 68 235.8 68.3 239.7 68.4 C243.5 68.5 246.3 68.4 247.7 68.4 L247.7 127.1 L-8 127.1Z" fill="#17aeda"/>
<path d="M-8 95.7 C-8.1 95.7 -9.6 95.7 -8.4 95.7 C-7.1 95.6 -6 96.1 -0.4 95.4 C5.3 94.7 15.6 94.5 25.6 91.7 C35.6 88.9 51.5 82.2 59.6 78.5 C67.8 74.8 69.6 71.8 74.6 69.3 C79.6 66.8 84.6 64.8 89.6 63.6 C94.6 62.3 99.6 61.9 104.6 61.8 C109.6 61.7 114.2 62.1 119.6 62.9 C125.1 63.7 131.3 65.4 137.2 66.6 C143 67.8 148.8 69 154.7 70.1 C160.5 71.2 166.4 72.3 172.2 73.1 C178 73.9 183.9 74.5 189.7 74.9 C195.6 75.2 201.4 75.3 207.2 75.4 C213.1 75.4 219.4 75.3 224.8 75.2 C230.2 75.1 235.8 74.9 239.7 74.9 C243.5 74.8 246.3 74.9 247.7 74.9 L247.7 127.1 L-8 127.1Z" fill="#28c3ab"/>
<path d="M-8 99.5 C-8.1 99.5 -9.6 99.6 -8.4 99.5 C-7.1 99.4 -6 99.6 -0.4 99.2 C5.3 98.8 15.6 99.3 25.6 96.9 C35.6 94.5 51.5 88 59.6 84.6 C67.8 81.1 69.6 78.5 74.6 76.2 C79.6 73.9 84.6 71.8 89.6 70.6 C94.6 69.4 99.6 69.1 104.6 68.9 C109.6 68.7 114.2 68.8 119.6 69.4 C125.1 70 131.3 71.5 137.2 72.6 C143 73.7 148.8 75 154.7 76.1 C160.5 77.2 166.4 78.4 172.2 79.2 C178 80.1 183.9 80.6 189.7 81 C195.6 81.3 201.4 81.4 207.2 81.3 C213.1 81.3 219.4 80.8 224.8 80.6 C230.2 80.4 235.8 80.2 239.7 80.1 C243.5 80 246.3 80.1 247.7 80.1 L247.7 127.1 L-8 127.1Z" fill="#70cd65"/>
<path d="M-8 103.4 C-8.1 103.4 -9.6 103.4 -8.4 103.4 C-7.1 103.3 -6 103.5 -0.4 103.1 C5.3 102.7 15.6 103.2 25.6 101.2 C35.6 99.2 51.5 94.1 59.6 91.1 C67.8 88 69.6 85 74.6 82.9 C79.6 80.8 84.6 79.4 89.6 78.3 C94.6 77.2 99.6 76.5 104.6 76.3 C109.6 76 114.2 76.4 119.6 76.8 C125.1 77.2 131.3 78 137.2 78.9 C143 79.8 148.8 81.3 154.7 82.4 C160.5 83.5 166.4 84.6 172.2 85.4 C178 86.2 183.9 86.8 189.7 87.1 C195.6 87.4 201.4 87.3 207.2 87.1 C213.1 87 219.4 86.5 224.8 86.2 C230.2 86 235.8 85.5 239.7 85.4 C243.5 85.2 246.3 85.4 247.7 85.4 L247.7 127.1 L-8 127.1Z" fill="#d4bf28"/>
<path d="M-8 108.7 C-8.1 108.7 -9.6 108.7 -8.4 108.7 C-7.1 108.6 -6 108.8 -0.4 108.4 C5.3 108 15.6 108 25.6 106.1 C35.6 104.2 51.5 99.6 59.6 96.9 C67.8 94.2 69.6 91.6 74.6 89.8 C79.6 88 84.6 86.9 89.6 86 C94.6 85.1 99.6 84.6 104.6 84.4 C109.6 84.2 114.2 84.3 119.6 84.7 C125.1 85.1 131.3 85.8 137.2 86.6 C143 87.4 148.8 88.8 154.7 89.7 C160.5 90.7 166.4 91.7 172.2 92.4 C178 93 183.9 93.5 189.7 93.6 C195.6 93.7 201.4 93.5 207.2 93.3 C213.1 93 219.4 92.3 224.8 91.9 C230.2 91.4 235.8 90.8 239.7 90.6 C243.5 90.4 246.3 90.6 247.7 90.6 L247.7 127.1 L-8 127.1Z" fill="#fdcd32"/>
<path d="M-8 112.4 C-8.1 112.4 -9.6 112.4 -8.4 112.4 C-7.1 112.4 -6 112.5 -0.4 112.2 C5.3 111.9 15.6 112.1 25.6 110.5 C35.6 108.9 51.5 104.8 59.6 102.6 C67.8 100.5 69.6 98.9 74.6 97.6 C79.6 96.3 84.6 95.3 89.6 94.6 C94.6 93.9 99.6 93.4 104.6 93.4 C109.6 93.4 114.2 93.8 119.6 94.4 C125.1 95 131.3 96.1 137.2 97.1 C143 98.1 148.8 99.6 154.7 100.6 C160.5 101.6 166.4 102.5 172.2 102.9 C178 103.3 183.9 103.2 189.7 102.9 C195.6 102.6 201.4 101.8 207.2 101.1 C213.1 100.5 219.4 99.6 224.8 98.9 C230.2 98.1 235.8 97.1 239.7 96.8 C243.5 96.4 246.3 96.8 247.7 96.8 L247.7 127.1 L-8 127.1Z" fill="#f9fb15"/>
<use href="#coast" stroke="#000" stroke-width="1.5" stroke-linejoin="round" stroke-linecap="round"/>
</g>
<path d="M9.9 119.1 v-2.4 M9.9 0 v2.4 M109.9 119.1 v-2.4 M109.9 0 v2.4 M209.9 119.1 v-2.4 M209.9 0 v2.4 M0 100 h2.4 M239.7 100 h-2.4 M0 60 h2.4 M239.7 60 h-2.4 M0 20 h2.4 M239.7 20 h-2.4" stroke="#262626" stroke-width="0.6" fill="none"/>
<rect x="0" y="0" width="239.65" height="119.1" fill="none" stroke="#262626" stroke-width="0.7"/>
<text class="h" x="119" y="-6.0" text-anchor="middle">C3</text>
</g>
<rect x="626.15" y="414.1" width="22.4" height="119.1" fill="url(#pg)" stroke="#3a3a3a" stroke-width="0.5"/>
<text class="c" x="654" y="419.9">5600</text>
<path d="M648.5 454 h-1.8" stroke="#262626" stroke-width="0.6"/>
<text class="c" x="654" y="459.8">5400</text>
<path d="M648.5 493.8 h-1.8" stroke="#262626" stroke-width="0.6"/>
<text class="c" x="654" y="499.6">5200</text>
<text class="c" x="654" y="539.5">5000</text>
<g transform="translate(374.35 594.3)">
<g clip-path="url(#cp)">
<rect x="-1" y="-1" width="241.65" height="121.1" fill="#473fe3"/>
<path d="M141.5 26 C141.8 23.9 142 21 144.2 19.3 C146.4 17.6 150 16.7 154.7 15.8 C159.4 14.9 164.9 14.5 172.2 14.1 C179.5 13.7 189.7 13.4 198.5 13.4 C207.2 13.3 216.9 13.6 224.8 13.7 C232.6 13.8 241.1 11.1 245.8 14.1 C250.5 17 252.8 25.9 252.8 31.2 C252.8 36.6 248 43.4 245.8 46.1 C243.6 48.8 241.4 46.8 239.7 47.4 C237.9 47.9 237.5 48.5 235.3 49.6 C233.1 50.7 230 52.5 226.5 54 C223 55.5 218.9 57.4 214.3 58.4 C209.6 59.4 203.7 60.3 198.5 60.1 C193.2 60 187.7 58.8 182.7 57.5 C177.8 56.2 173.1 54.3 168.7 52.3 C164.3 50.2 159.9 47.6 156.4 45.3 C152.9 42.9 150 40.5 147.7 38.2 C145.4 36 143.8 33.6 142.8 31.6 C141.8 29.5 141.3 28 141.5 26Z" fill="#3e26a8"/>
<path d="M-8 12.3 C-6.7 12.3 -4.5 12.3 -0.4 12.3 C3.8 12.3 11.3 12.1 17.2 12.3 C23 12.5 28.8 12.8 34.7 13.4 C40.5 13.9 46.4 14.6 52.2 15.5 C58 16.3 63.9 17.5 69.7 18.6 C75.6 19.8 82 21.1 87.2 22.5 C92.5 23.8 97.2 25.5 101.3 26.9 C105.3 28.2 108.7 29.3 111.8 30.4 C114.8 31.4 116.9 31.5 119.6 33 C122.4 34.4 125.5 37 128.4 39.1 C131.3 41.2 134 43.5 137.2 45.6 C140.4 47.7 143.9 49.6 147.7 51.6 C151.5 53.5 155.3 55 159.9 57.2 C164.6 59.3 170.2 62.4 175.7 64.5 C181.3 66.6 187.4 68.9 193.2 69.8 C199.1 70.7 205.5 70.2 210.8 69.8 C216 69.3 219.9 68.3 224.8 67.1 C229.6 66 235.8 63.5 239.7 62.8 C243.5 62 246.3 62.8 247.7 62.8 L247.7 127.1 L-8 127.1Z" fill="#3d70ff"/>
<path d="M-8 87.7 C-8.1 87.7 -9.6 87.8 -8.4 87.7 C-7.1 87.6 -2.6 87.2 -0.4 86.9 C1.9 86.6 3.2 86.5 4.9 86 C6.7 85.5 8.4 84.8 10.1 83.8 C11.9 82.9 14 81.6 15.4 80.3 C16.9 79.1 18 77.7 18.9 76.3 C19.9 74.9 20.6 73.6 21.1 72 C21.6 70.4 21.9 68.5 21.9 66.7 C21.9 64.9 21.8 63.4 21.1 61 C20.5 58.6 18.6 54.9 18.2 52.3 C17.9 49.7 18.2 47.4 18.9 45.3 C19.6 43.3 20.4 41.4 22.4 40 C24.5 38.6 27.4 37.7 31.1 36.8 C34.9 35.9 40.5 35.3 45.2 34.7 C49.9 34.2 54.5 33.6 59.2 33.3 C63.9 33 68.6 32.9 73.2 33 C77.9 33.1 82.6 33.3 87.2 33.9 C91.9 34.4 97.2 35.6 101.3 36.5 C105.3 37.4 108.7 38.1 111.8 39.1 C114.8 40.1 116.9 41.2 119.6 42.6 C122.4 44.1 125.5 46 128.4 47.9 C131.3 49.7 134 51.8 137.2 53.7 C140.4 55.6 143.9 57.4 147.7 59.3 C151.5 61.2 155.3 63.1 159.9 65 C164.6 67 170.2 69.2 175.7 70.8 C181.3 72.5 187.4 74.3 193.2 75 C199.1 75.7 205.5 75.6 210.8 75 C216 74.5 219.9 73 224.8 71.9 C229.6 70.7 235.8 68.7 239.7 68 C243.5 67.4 246.3 68 247.7 68 L247.7 127.1 L-8 127.1Z" fill="#269ae8"/>
<path d="M-8 96.2 C-8.1 96.2 -9.6 96.3 -8.4 96.2 C-7.1 96.1 -2.9 95.9 -0.4 95.6 C2.1 95.4 4.3 95.1 6.6 94.7 C9 94.3 11.3 93.8 13.6 93 C16 92.2 18.4 91.1 20.6 89.9 C22.8 88.7 24.9 87.5 26.8 86 C28.7 84.5 30.6 82.8 32 81.2 C33.5 79.6 34.6 78 35.5 76.3 C36.5 74.6 37.2 73 37.8 71.1 C38.3 69.2 38.3 67.6 38.8 65 C39.4 62.4 39.5 58.3 40.8 55.7 C42.2 53.1 44.5 51 46.9 49.6 C49.4 48.2 52.1 47.7 55.6 47.2 C59.2 46.7 64.9 46.9 68.4 46.7 C72 46.5 74.2 46.1 77.1 46 C80.1 45.9 83 46.1 85.9 46.3 C88.9 46.5 91.7 46.9 94.6 47.4 C97.6 47.9 100.5 48.5 103.4 49.3 C106.4 50.1 109.5 51.4 112.2 52 C115 52.6 117 52.5 119.6 53.2 C122.3 53.9 125.5 54.8 128.4 56.1 C131.3 57.4 134 59.4 137.2 61 C140.4 62.7 143.9 64.2 147.7 65.9 C151.5 67.6 155.3 69.6 159.9 71.2 C164.6 72.8 170.2 74.2 175.7 75.6 C181.3 76.9 187.4 78.8 193.2 79.4 C199.1 80.1 205.5 79.9 210.8 79.4 C216 78.9 219.9 77.6 224.8 76.4 C229.6 75.3 235.8 73.1 239.7 72.4 C243.5 71.7 246.3 72.4 247.7 72.4 L247.7 127.1 L-8 127.1Z" fill="#01b9c6"/>
<path d="M-8 101.7 C-8.1 101.7 -9.6 101.8 -8.4 101.7 C-7.1 101.6 -2.9 101.5 -0.4 101.3 C2.1 101.1 4.3 101 6.6 100.7 C9 100.4 11.3 99.9 13.6 99.3 C16 98.7 18.3 97.9 20.6 96.9 C23 95.9 25.4 94.6 27.6 93.4 C29.8 92.2 31.8 90.8 33.8 89.5 C35.8 88.2 38 87.3 39.6 85.8 C41.2 84.3 42.2 82.6 43.4 80.7 C44.7 78.9 46 76.7 47.3 74.7 C48.7 72.7 50 70.5 51.3 68.7 C52.7 66.9 54.3 65.5 55.6 64.1 C57 62.7 58.1 61.4 59.6 60.2 C61.2 59 62.9 57.6 64.9 56.7 C67 55.8 69.3 55.2 71.9 54.8 C74.6 54.4 77.7 54.2 80.6 54.2 C83.6 54.2 86.5 54.6 89.4 55 C92.4 55.4 95.2 56.1 98.1 56.8 C101.1 57.5 104.3 58.5 106.9 59.4 C109.6 60.3 111.8 61.2 113.9 62 C116.1 62.8 117.2 63.8 119.6 64.2 C122.1 64.6 125.5 63.7 128.4 64.5 C131.3 65.3 134 67.5 137.2 68.9 C140.4 70.3 143.9 71.6 147.7 73.1 C151.5 74.6 155.3 76.8 159.9 78 C164.6 79.3 170.2 79.7 175.7 80.6 C181.3 81.6 187.4 83.3 193.2 83.8 C199.1 84.3 205.5 84 210.8 83.4 C216 82.9 219.9 81.5 224.8 80.3 C229.6 79.1 235.8 77.1 239.7 76.4 C243.5 75.8 246.3 76.4 247.7 76.4 L247.7 127.1 L-8 127.1Z" fill="#44cb89"/>
<path d="M-8 107.7 C-8.1 107.7 -9.6 107.8 -8.4 107.7 C-7.1 107.7 -2.9 107.6 -0.4 107.4 C2.1 107.3 4.3 107.1 6.6 106.8 C9 106.5 11.3 106 13.6 105.5 C16 105 18.3 104.4 20.6 103.7 C23 103 25.5 102.3 27.6 101.5 C29.8 100.7 31.6 99.7 33.6 98.7 C35.6 97.7 37.6 96.9 39.6 95.6 C41.6 94.3 43.5 92.9 45.6 90.7 C47.8 88.6 50.3 85.4 52.6 82.7 C55 80.1 57.5 76.9 59.6 74.8 C61.8 72.7 63.5 71.7 65.6 70.2 C67.8 68.7 70.3 67.1 72.6 66 C75 64.9 77.1 64 79.6 63.4 C82.1 62.9 84.8 62.7 87.6 62.7 C90.4 62.7 93.5 62.8 96.4 63.3 C99.4 63.8 102.5 64.8 105.1 65.5 C107.8 66.2 109.8 67 112.2 67.7 C114.7 68.4 117 69.1 119.6 69.9 C122.3 70.7 125.5 71.3 128.4 72.4 C131.3 73.5 134 75.4 137.2 76.4 C140.4 77.5 143.9 78 147.7 78.9 C151.5 79.8 155.3 80.6 159.9 81.7 C164.6 82.8 170.2 84.5 175.7 85.5 C181.3 86.6 187.4 87.5 193.2 87.8 C199.1 88.1 205.5 87.9 210.8 87.3 C216 86.7 219.9 85.3 224.8 84.1 C229.6 83 235.8 80.9 239.7 80.3 C243.5 79.6 246.3 80.3 247.7 80.3 L247.7 127.1 L-8 127.1Z" fill="#b9c431"/>
<path d="M-8 111.7 C-8.1 111.7 -9.6 111.8 -8.4 111.7 C-7.1 111.7 -2.9 111.5 -0.4 111.4 C2.1 111.3 4.3 111.2 6.6 110.9 C9 110.6 11.3 110.1 13.6 109.6 C16 109.1 18.3 108.4 20.6 107.7 C23 107 25.5 105.9 27.6 105.3 C29.8 104.7 31.6 104.4 33.6 103.9 C35.6 103.4 37.6 103.1 39.6 102.1 C41.6 101.2 43.5 99.8 45.6 98.2 C47.8 96.6 50.3 94.4 52.6 92.5 C55 90.6 57.5 88.4 59.6 86.6 C61.8 84.8 63.5 83.2 65.6 81.7 C67.8 80.2 70.3 78.8 72.6 77.5 C75 76.2 77.4 74.9 79.6 74 C81.9 73.1 83.7 72.5 85.9 72.1 C88.2 71.7 90.6 71.6 92.9 71.7 C95.3 71.8 97.6 72 99.9 72.5 C102.3 73 104.6 73.9 106.9 74.7 C109.3 75.5 111.8 76.6 113.9 77.2 C116.1 77.8 117.2 77.7 119.6 78.2 C122.1 78.7 125.5 79.1 128.4 79.9 C131.3 80.8 134 82.4 137.2 83.4 C140.4 84.5 143.9 85.4 147.7 86.4 C151.5 87.4 155.3 88.5 159.9 89.4 C164.6 90.3 170.2 91.4 175.7 92 C181.3 92.7 187.4 93.4 193.2 93.4 C199.1 93.4 205.5 92.8 210.8 92 C216 91.2 219.9 89.7 224.8 88.5 C229.6 87.3 235.8 85.3 239.7 84.7 C243.5 84 246.3 84.7 247.7 84.7 L247.7 127.1 L-8 127.1Z" fill="#fec13a"/>
<path d="M-8 116 C-8.1 116 -9.6 116 -8.4 116 C-7.1 116 -2.9 115.9 -0.4 115.8 C2.1 115.7 4.3 115.6 6.6 115.3 C9 115 11.3 114.6 13.6 114.2 C16 113.8 18.3 113.2 20.6 112.7 C23 112.2 25.5 111.7 27.6 111.2 C29.8 110.8 31.6 110.4 33.6 110 C35.6 109.6 37.6 109.3 39.6 108.6 C41.6 107.9 43.5 106.9 45.6 105.7 C47.8 104.6 50.3 103.3 52.6 101.7 C55 100.2 57.5 98.1 59.6 96.4 C61.8 94.7 63.5 93.2 65.6 91.7 C67.8 90.3 70.3 89 72.6 87.7 C75 86.4 77 85.1 79.6 84.1 C82.3 83.1 85.7 82.3 88.5 81.9 C91.3 81.5 94 81.5 96.4 81.7 C98.9 81.9 101.1 82.5 103.4 83.1 C105.8 83.7 107.7 84.3 110.4 85.2 C113.1 86.1 116.7 87.5 119.6 88.4 C122.6 89.3 125.5 89.6 128.4 90.4 C131.3 91.3 134 92.6 137.2 93.4 C140.4 94.3 143.9 95.1 147.7 95.7 C151.5 96.3 155.3 97.1 159.9 97.3 C164.6 97.5 170.2 96.7 175.7 96.9 C181.3 97.2 187.4 98.7 193.2 98.7 C199.1 98.7 205.5 97.9 210.8 96.9 C216 96 219.9 94.5 224.8 93.1 C229.6 91.7 235.8 89.4 239.7 88.7 C243.5 88 246.3 88.7 247.7 88.7 L247.7 127.1 L-8 127.1Z" fill="#f6f020"/>
<path d="M-8 118.7 C-8.1 118.7 -9.6 118.8 -8.4 118.7 C-7.1 118.6 -5.2 118.7 -0.4 118.2 C4.5 117.7 14 116.8 20.6 115.7 C27.3 114.7 33.1 113.6 39.6 111.9 C46.1 110.2 53 107.9 59.6 105.7 C66.3 103.5 73.6 100.6 79.6 98.8 C85.6 97 90.6 95.5 95.6 94.7 C100.6 93.9 105.6 94.1 109.6 94.2 C113.6 94.3 116.5 94.7 119.6 95.2 C122.8 95.7 125.5 96.4 128.4 97.1 C131.3 97.8 134 98.9 137.2 99.6 C140.4 100.3 143.9 100.9 147.7 101.3 C151.5 101.7 155.3 102.1 159.9 102.2 C164.6 102.2 170.2 101.6 175.7 101.7 C181.3 101.7 187.4 102.8 193.2 102.7 C199.1 102.6 205.5 101.9 210.8 101 C216 100 219.9 98.3 224.8 96.9 C229.6 95.5 235.8 93.3 239.7 92.6 C243.5 91.8 246.3 92.6 247.7 92.6 L247.7 127.1 L-8 127.1Z" fill="#f9fb15"/>
<use href="#coast" stroke="#000" stroke-width="1.5" stroke-linejoin="round" stroke-linecap="round"/>
</g>
<path d="M9.9 119.1 v-2.4 M9.9 0 v2.4 M109.9 119.1 v-2.4 M109.9 0 v2.4 M209.9 119.1 v-2.4 M209.9 0 v2.4 M0 100 h2.4 M239.7 100 h-2.4 M0 60 h2.4 M239.7 60 h-2.4 M0 20 h2.4 M239.7 20 h-2.4" stroke="#262626" stroke-width="0.6" fill="none"/>
<rect x="0" y="0" width="239.65" height="119.1" fill="none" stroke="#262626" stroke-width="0.7"/>
<text class="a" x="9.6" y="140.6" text-anchor="middle">200</text>
<text class="a" x="109.6" y="140.6" text-anchor="middle">250</text>
<text class="a" x="209.6" y="140.6" text-anchor="middle">300</text>
<text class="h" x="119" y="-6.0" text-anchor="middle">C4</text>
</g>
<rect x="626.15" y="594.8" width="22.4" height="119.1" fill="url(#pg)" stroke="#3a3a3a" stroke-width="0.5"/>
<text class="c" x="654" y="600.6">5600</text>
<path d="M648.5 634.7 h-1.8" stroke="#262626" stroke-width="0.6"/>
<text class="c" x="654" y="640.5">5400</text>
<path d="M648.5 674.5 h-1.8" stroke="#262626" stroke-width="0.6"/>
<text class="c" x="654" y="680.3">5200</text>
<text class="c" x="654" y="720.2">5000</text>
</svg></body></html>
